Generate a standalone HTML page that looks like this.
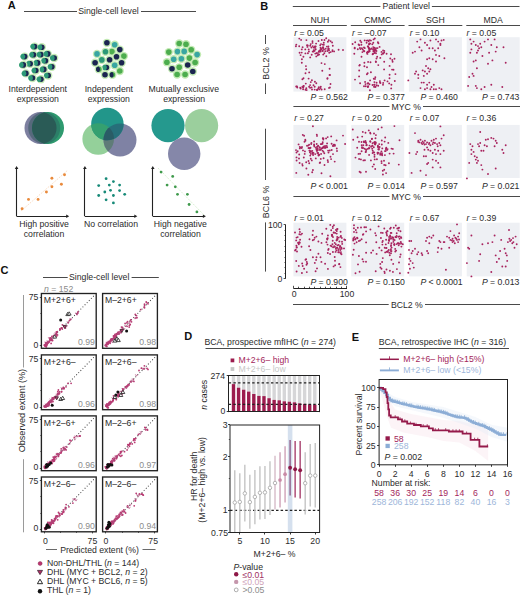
<!DOCTYPE html>
<html><head><meta charset="utf-8"><style>
html,body{margin:0;padding:0;background:#fff;}
svg{display:block;font-family:"Liberation Sans",sans-serif;}
</style></head><body>
<svg width="520" height="596" viewBox="0 0 520 596">
<rect width="520" height="596" fill="#fff"/>
<text x="7.8" y="9.3" font-size="11" text-anchor="start" fill="#111" font-weight="bold">A</text>
<line x1="24.00" y1="11.50" x2="77.00" y2="11.50" stroke="#4a4a4a" stroke-width="1.0"/>
<text x="78.3" y="14.3" font-size="8.7" text-anchor="start" fill="#2b2b2b">Single-cell level</text>
<line x1="141.00" y1="11.50" x2="196.00" y2="11.50" stroke="#4a4a4a" stroke-width="1.0"/>
<circle cx="34.60" cy="46.60" r="4.15" fill="#c3eab4" stroke="none" stroke-width="0.5"/>
<circle cx="34.60" cy="46.60" r="2.80" fill="#1b2550" stroke="none" stroke-width="0.5"/>
<path d="M33.85,43.90 A2.8,2.8 0 1 0 33.85,49.30 A3.6,3.6 0 0 0 33.85,43.90Z" fill="#2c9877"/>
<circle cx="41.80" cy="47.20" r="4.15" fill="#c3eab4" stroke="none" stroke-width="0.5"/>
<circle cx="41.80" cy="47.20" r="2.80" fill="#1b2550" stroke="none" stroke-width="0.5"/>
<path d="M41.05,44.50 A2.8,2.8 0 1 0 41.05,49.90 A3.6,3.6 0 0 0 41.05,44.50Z" fill="#2c9877"/>
<circle cx="24.70" cy="56.60" r="4.15" fill="#c3eab4" stroke="none" stroke-width="0.5"/>
<circle cx="24.70" cy="56.60" r="2.80" fill="#1b2550" stroke="none" stroke-width="0.5"/>
<path d="M23.95,53.90 A2.8,2.8 0 1 0 23.95,59.30 A3.6,3.6 0 0 0 23.95,53.90Z" fill="#2c9877"/>
<circle cx="33.50" cy="54.80" r="4.15" fill="#c3eab4" stroke="none" stroke-width="0.5"/>
<circle cx="33.50" cy="54.80" r="2.80" fill="#1b2550" stroke="none" stroke-width="0.5"/>
<path d="M32.75,52.10 A2.8,2.8 0 1 0 32.75,57.50 A3.6,3.6 0 0 0 32.75,52.10Z" fill="#2c9877"/>
<circle cx="40.90" cy="54.60" r="4.15" fill="#c3eab4" stroke="none" stroke-width="0.5"/>
<circle cx="40.90" cy="54.60" r="2.80" fill="#1b2550" stroke="none" stroke-width="0.5"/>
<path d="M40.15,51.90 A2.8,2.8 0 1 0 40.15,57.30 A3.6,3.6 0 0 0 40.15,51.90Z" fill="#2c9877"/>
<circle cx="47.80" cy="53.90" r="4.15" fill="#c3eab4" stroke="none" stroke-width="0.5"/>
<circle cx="47.80" cy="53.90" r="2.80" fill="#1b2550" stroke="none" stroke-width="0.5"/>
<path d="M47.05,51.20 A2.8,2.8 0 1 0 47.05,56.60 A3.6,3.6 0 0 0 47.05,51.20Z" fill="#2c9877"/>
<circle cx="54.20" cy="58.00" r="4.15" fill="#c3eab4" stroke="none" stroke-width="0.5"/>
<circle cx="54.20" cy="58.00" r="2.80" fill="#1b2550" stroke="none" stroke-width="0.5"/>
<path d="M53.45,55.30 A2.8,2.8 0 1 0 53.45,60.70 A3.6,3.6 0 0 0 53.45,55.30Z" fill="#2c9877"/>
<circle cx="45.50" cy="60.80" r="4.15" fill="#c3eab4" stroke="none" stroke-width="0.5"/>
<circle cx="45.50" cy="60.80" r="2.80" fill="#1b2550" stroke="none" stroke-width="0.5"/>
<path d="M44.75,58.10 A2.8,2.8 0 1 0 44.75,63.50 A3.6,3.6 0 0 0 44.75,58.10Z" fill="#2c9877"/>
<circle cx="37.60" cy="62.90" r="4.15" fill="#c3eab4" stroke="none" stroke-width="0.5"/>
<circle cx="37.60" cy="62.90" r="2.80" fill="#1b2550" stroke="none" stroke-width="0.5"/>
<path d="M36.85,60.20 A2.8,2.8 0 1 0 36.85,65.60 A3.6,3.6 0 0 0 36.85,60.20Z" fill="#2c9877"/>
<circle cx="30.20" cy="63.80" r="4.15" fill="#c3eab4" stroke="none" stroke-width="0.5"/>
<circle cx="30.20" cy="63.80" r="2.80" fill="#1b2550" stroke="none" stroke-width="0.5"/>
<path d="M29.45,61.10 A2.8,2.8 0 1 0 29.45,66.50 A3.6,3.6 0 0 0 29.45,61.10Z" fill="#2c9877"/>
<circle cx="23.30" cy="64.90" r="4.15" fill="#c3eab4" stroke="none" stroke-width="0.5"/>
<circle cx="23.30" cy="64.90" r="2.80" fill="#1b2550" stroke="none" stroke-width="0.5"/>
<path d="M22.55,62.20 A2.8,2.8 0 1 0 22.55,67.60 A3.6,3.6 0 0 0 22.55,62.20Z" fill="#2c9877"/>
<circle cx="51.90" cy="66.80" r="4.15" fill="#c3eab4" stroke="none" stroke-width="0.5"/>
<circle cx="51.90" cy="66.80" r="2.80" fill="#1b2550" stroke="none" stroke-width="0.5"/>
<path d="M51.15,64.10 A2.8,2.8 0 1 0 51.15,69.50 A3.6,3.6 0 0 0 51.15,64.10Z" fill="#2c9877"/>
<circle cx="43.80" cy="69.40" r="4.15" fill="#c3eab4" stroke="none" stroke-width="0.5"/>
<circle cx="43.80" cy="69.40" r="2.80" fill="#1b2550" stroke="none" stroke-width="0.5"/>
<path d="M43.05,66.70 A2.8,2.8 0 1 0 43.05,72.10 A3.6,3.6 0 0 0 43.05,66.70Z" fill="#2c9877"/>
<circle cx="35.80" cy="70.50" r="4.15" fill="#c3eab4" stroke="none" stroke-width="0.5"/>
<circle cx="35.80" cy="70.50" r="2.80" fill="#1b2550" stroke="none" stroke-width="0.5"/>
<path d="M35.05,67.80 A2.8,2.8 0 1 0 35.05,73.20 A3.6,3.6 0 0 0 35.05,67.80Z" fill="#2c9877"/>
<circle cx="25.90" cy="73.40" r="4.15" fill="#c3eab4" stroke="none" stroke-width="0.5"/>
<circle cx="25.90" cy="73.40" r="2.80" fill="#1b2550" stroke="none" stroke-width="0.5"/>
<path d="M25.15,70.70 A2.8,2.8 0 1 0 25.15,76.10 A3.6,3.6 0 0 0 25.15,70.70Z" fill="#2c9877"/>
<circle cx="48.20" cy="75.50" r="4.15" fill="#c3eab4" stroke="none" stroke-width="0.5"/>
<circle cx="48.20" cy="75.50" r="2.80" fill="#1b2550" stroke="none" stroke-width="0.5"/>
<path d="M47.45,72.80 A2.8,2.8 0 1 0 47.45,78.20 A3.6,3.6 0 0 0 47.45,72.80Z" fill="#2c9877"/>
<circle cx="32.50" cy="78.00" r="4.15" fill="#c3eab4" stroke="none" stroke-width="0.5"/>
<circle cx="32.50" cy="78.00" r="2.80" fill="#1b2550" stroke="none" stroke-width="0.5"/>
<path d="M31.75,75.30 A2.8,2.8 0 1 0 31.75,80.70 A3.6,3.6 0 0 0 31.75,75.30Z" fill="#2c9877"/>
<circle cx="40.90" cy="79.20" r="4.15" fill="#c3eab4" stroke="none" stroke-width="0.5"/>
<circle cx="40.90" cy="79.20" r="2.80" fill="#1b2550" stroke="none" stroke-width="0.5"/>
<path d="M40.15,76.50 A2.8,2.8 0 1 0 40.15,81.90 A3.6,3.6 0 0 0 40.15,76.50Z" fill="#2c9877"/>
<circle cx="106.90" cy="42.80" r="4.15" fill="#c3eab4" stroke="none" stroke-width="0.5"/>
<circle cx="106.90" cy="42.80" r="2.80" fill="#1b2550" stroke="none" stroke-width="0.5"/>
<circle cx="114.70" cy="44.70" r="4.15" fill="#c3eab4" stroke="none" stroke-width="0.5"/>
<circle cx="114.70" cy="44.70" r="2.80" fill="#38a6a2" stroke="none" stroke-width="0.5"/>
<circle cx="119.80" cy="49.60" r="4.15" fill="#c3eab4" stroke="none" stroke-width="0.5"/>
<circle cx="119.80" cy="49.60" r="2.80" fill="#1b2550" stroke="none" stroke-width="0.5"/>
<circle cx="111.90" cy="51.60" r="4.15" fill="#c3eab4" stroke="none" stroke-width="0.5"/>
<circle cx="111.90" cy="51.60" r="2.80" fill="#4cad4e" stroke="none" stroke-width="0.5"/>
<circle cx="105.50" cy="51.80" r="4.15" fill="#c3eab4" stroke="none" stroke-width="0.5"/>
<circle cx="105.50" cy="51.80" r="2.80" fill="#2c9877" stroke="none" stroke-width="0.5"/>
<circle cx="97.00" cy="53.90" r="4.15" fill="#c3eab4" stroke="none" stroke-width="0.5"/>
<circle cx="97.00" cy="53.90" r="2.80" fill="#38a6a2" stroke="none" stroke-width="0.5"/>
<circle cx="123.90" cy="56.10" r="4.15" fill="#c3eab4" stroke="none" stroke-width="0.5"/>
<circle cx="123.90" cy="56.10" r="2.80" fill="#4cad4e" stroke="none" stroke-width="0.5"/>
<circle cx="116.50" cy="56.70" r="4.15" fill="#c3eab4" stroke="none" stroke-width="0.5"/>
<circle cx="116.50" cy="56.70" r="2.80" fill="#1b2550" stroke="none" stroke-width="0.5"/>
<circle cx="109.60" cy="59.70" r="4.15" fill="#c3eab4" stroke="none" stroke-width="0.5"/>
<circle cx="109.60" cy="59.70" r="2.80" fill="#1b2550" stroke="none" stroke-width="0.5"/>
<circle cx="101.80" cy="59.90" r="4.15" fill="#c3eab4" stroke="none" stroke-width="0.5"/>
<circle cx="101.80" cy="59.90" r="2.80" fill="#2c9877" stroke="none" stroke-width="0.5"/>
<circle cx="95.10" cy="62.70" r="4.15" fill="#c3eab4" stroke="none" stroke-width="0.5"/>
<circle cx="95.10" cy="62.70" r="2.80" fill="#1b2550" stroke="none" stroke-width="0.5"/>
<circle cx="121.60" cy="62.70" r="4.15" fill="#c3eab4" stroke="none" stroke-width="0.5"/>
<circle cx="121.60" cy="62.70" r="2.80" fill="#1b2550" stroke="none" stroke-width="0.5"/>
<circle cx="114.70" cy="65.30" r="4.15" fill="#c3eab4" stroke="none" stroke-width="0.5"/>
<circle cx="114.70" cy="65.30" r="2.80" fill="#38a6a2" stroke="none" stroke-width="0.5"/>
<circle cx="106.40" cy="67.50" r="4.15" fill="#c3eab4" stroke="none" stroke-width="0.5"/>
<circle cx="106.40" cy="67.50" r="2.80" fill="#1b2550" stroke="none" stroke-width="0.5"/>
<path d="M105.65,64.80 A2.8,2.8 0 1 0 105.65,70.20 A3.6,3.6 0 0 0 105.65,64.80Z" fill="#2c9877"/>
<circle cx="98.80" cy="69.20" r="4.15" fill="#c3eab4" stroke="none" stroke-width="0.5"/>
<circle cx="98.80" cy="69.20" r="2.80" fill="#4cad4e" stroke="none" stroke-width="0.5"/>
<path d="M98.80,66.40 A2.8,2.8 0 1 0 98.80,72.00 A4.2,4.2 0 0 0 98.80,66.40Z" fill="#1b2550"/>
<circle cx="119.80" cy="71.00" r="4.15" fill="#c3eab4" stroke="none" stroke-width="0.5"/>
<circle cx="119.80" cy="71.00" r="2.80" fill="#4cad4e" stroke="none" stroke-width="0.5"/>
<circle cx="105.00" cy="74.70" r="4.15" fill="#c3eab4" stroke="none" stroke-width="0.5"/>
<circle cx="105.00" cy="74.70" r="2.80" fill="#1b2550" stroke="none" stroke-width="0.5"/>
<circle cx="112.40" cy="74.70" r="4.15" fill="#c3eab4" stroke="none" stroke-width="0.5"/>
<circle cx="112.40" cy="74.70" r="2.80" fill="#4cad4e" stroke="none" stroke-width="0.5"/>
<path d="M112.40,71.90 A2.8,2.8 0 1 0 112.40,77.50 A4.2,4.2 0 0 0 112.40,71.90Z" fill="#1b2550"/>
<circle cx="179.20" cy="43.50" r="4.15" fill="#c3eab4" stroke="none" stroke-width="0.5"/>
<circle cx="179.20" cy="43.50" r="2.80" fill="#4cad4e" stroke="none" stroke-width="0.5"/>
<circle cx="186.00" cy="44.20" r="4.15" fill="#c3eab4" stroke="none" stroke-width="0.5"/>
<circle cx="186.00" cy="44.20" r="2.80" fill="#4cad4e" stroke="none" stroke-width="0.5"/>
<circle cx="168.80" cy="52.10" r="4.15" fill="#c3eab4" stroke="none" stroke-width="0.5"/>
<circle cx="168.80" cy="52.10" r="2.80" fill="#4cad4e" stroke="none" stroke-width="0.5"/>
<circle cx="177.50" cy="51.60" r="4.15" fill="#c3eab4" stroke="none" stroke-width="0.5"/>
<circle cx="177.50" cy="51.60" r="2.80" fill="#38a6a2" stroke="none" stroke-width="0.5"/>
<circle cx="184.20" cy="51.40" r="4.15" fill="#c3eab4" stroke="none" stroke-width="0.5"/>
<circle cx="184.20" cy="51.40" r="2.80" fill="#38a6a2" stroke="none" stroke-width="0.5"/>
<circle cx="191.20" cy="49.80" r="4.15" fill="#c3eab4" stroke="none" stroke-width="0.5"/>
<circle cx="191.20" cy="49.80" r="2.80" fill="#4cad4e" stroke="none" stroke-width="0.5"/>
<circle cx="197.10" cy="54.60" r="4.15" fill="#c3eab4" stroke="none" stroke-width="0.5"/>
<circle cx="197.10" cy="54.60" r="2.80" fill="#38a6a2" stroke="none" stroke-width="0.5"/>
<circle cx="173.70" cy="59.20" r="4.15" fill="#c3eab4" stroke="none" stroke-width="0.5"/>
<circle cx="173.70" cy="59.20" r="2.80" fill="#38a6a2" stroke="none" stroke-width="0.5"/>
<circle cx="181.40" cy="58.80" r="4.15" fill="#c3eab4" stroke="none" stroke-width="0.5"/>
<circle cx="181.40" cy="58.80" r="2.80" fill="#38a6a2" stroke="none" stroke-width="0.5"/>
<circle cx="189.40" cy="58.10" r="4.15" fill="#c3eab4" stroke="none" stroke-width="0.5"/>
<circle cx="189.40" cy="58.10" r="2.80" fill="#4cad4e" stroke="none" stroke-width="0.5"/>
<circle cx="166.90" cy="62.20" r="4.15" fill="#c3eab4" stroke="none" stroke-width="0.5"/>
<circle cx="166.90" cy="62.20" r="2.80" fill="#4cad4e" stroke="none" stroke-width="0.5"/>
<circle cx="195.10" cy="62.50" r="4.15" fill="#c3eab4" stroke="none" stroke-width="0.5"/>
<circle cx="195.10" cy="62.50" r="2.80" fill="#4cad4e" stroke="none" stroke-width="0.5"/>
<circle cx="187.70" cy="65.00" r="4.15" fill="#c3eab4" stroke="none" stroke-width="0.5"/>
<circle cx="187.70" cy="65.00" r="2.80" fill="#1b2550" stroke="none" stroke-width="0.5"/>
<circle cx="179.20" cy="67.30" r="4.15" fill="#c3eab4" stroke="none" stroke-width="0.5"/>
<circle cx="179.20" cy="67.30" r="2.80" fill="#4cad4e" stroke="none" stroke-width="0.5"/>
<circle cx="172.00" cy="68.70" r="4.15" fill="#c3eab4" stroke="none" stroke-width="0.5"/>
<circle cx="172.00" cy="68.70" r="2.80" fill="#1b2550" stroke="none" stroke-width="0.5"/>
<circle cx="192.80" cy="71.50" r="4.15" fill="#c3eab4" stroke="none" stroke-width="0.5"/>
<circle cx="192.80" cy="71.50" r="2.80" fill="#1b2550" stroke="none" stroke-width="0.5"/>
<circle cx="177.10" cy="74.50" r="4.15" fill="#c3eab4" stroke="none" stroke-width="0.5"/>
<circle cx="177.10" cy="74.50" r="2.80" fill="#4cad4e" stroke="none" stroke-width="0.5"/>
<circle cx="185.10" cy="74.50" r="4.15" fill="#c3eab4" stroke="none" stroke-width="0.5"/>
<circle cx="185.10" cy="74.50" r="2.80" fill="#4cad4e" stroke="none" stroke-width="0.5"/>
<text x="37.8" y="91.8" font-size="8.7" text-anchor="middle" fill="#2b2b2b">Interdependent</text>
<text x="37.8" y="102.2" font-size="8.7" text-anchor="middle" fill="#2b2b2b">expression</text>
<text x="108.8" y="91.8" font-size="8.7" text-anchor="middle" fill="#2b2b2b">Independent</text>
<text x="108.8" y="102.2" font-size="8.7" text-anchor="middle" fill="#2b2b2b">expression</text>
<text x="183.8" y="91.8" font-size="8.7" text-anchor="middle" fill="#2b2b2b">Mutually exclusive</text>
<text x="184.2" y="102.2" font-size="8.7" text-anchor="middle" fill="#2b2b2b">expression</text>
<circle cx="40.50" cy="128.00" r="16.00" fill="#7d80a0" stroke="none" stroke-width="0.5"/>
<circle cx="48.00" cy="128.00" r="16.00" fill="#2f9a6f" stroke="none" stroke-width="0.5"/>
<clipPath id="v1"><circle cx="40.5" cy="128" r="16"/></clipPath>
<clipPath id="v1g"><circle cx="48" cy="128" r="16"/></clipPath>
<circle cx="48.00" cy="128.00" r="16.00" fill="#2b5e58" stroke="none" stroke-width="0.5" clip-path="url(#v1)"/>
<circle cx="44.20" cy="128.00" r="16.00" fill="#56697c" stroke="none" stroke-width="0.5" clip-path="url(#v1)"/>
<circle cx="44.20" cy="128.00" r="16.00" fill="#2c7e68" stroke="none" stroke-width="0.5" clip-path="url(#v1g)"/>
<g clip-path="url(#v1)">
<circle cx="44.20" cy="128.00" r="16.00" fill="#2a5b56" stroke="none" stroke-width="0.5" clip-path="url(#v1g)"/>
</g>
<g>
<circle cx="98.20" cy="139.00" r="15.80" fill="#94d09a" stroke="none" stroke-width="0.5"/>
<circle cx="120.00" cy="140.00" r="16.50" fill="#7f82a4" stroke="none" stroke-width="0.5"/>
<circle cx="107.40" cy="124.00" r="16.20" fill="#22968a" stroke="none" stroke-width="0.5"/>
<clipPath id="v2a"><circle cx="98.2" cy="139" r="15.8"/></clipPath>
<clipPath id="v2b"><circle cx="120" cy="140" r="16.5"/></clipPath>
<circle cx="107.40" cy="124.00" r="16.20" fill="#35a070" stroke="none" stroke-width="0.5" clip-path="url(#v2a)"/>
<circle cx="120.00" cy="140.00" r="16.50" fill="#5f7c78" stroke="none" stroke-width="0.5" clip-path="url(#v2a)"/>
<circle cx="107.40" cy="124.00" r="16.20" fill="#276f7a" stroke="none" stroke-width="0.5" clip-path="url(#v2b)"/>
<g clip-path="url(#v2a)">
<circle cx="107.40" cy="124.00" r="16.20" fill="#2a5c66" stroke="none" stroke-width="0.5" clip-path="url(#v2b)"/>
</g>
</g>
<circle cx="168.00" cy="125.60" r="16.60" fill="#25998e" stroke="none" stroke-width="0.5"/>
<circle cx="201.60" cy="125.60" r="16.60" fill="#9bcf9d" stroke="none" stroke-width="0.5"/>
<circle cx="184.20" cy="153.70" r="16.20" fill="#8587a9" stroke="none" stroke-width="0.5"/>
<line x1="16.50" y1="216.20" x2="16.50" y2="168.00" stroke="#222" stroke-width="1.1"/>
<line x1="16.60" y1="216.50" x2="67.20" y2="216.50" stroke="#222" stroke-width="1.1"/>
<path d="M14.8,169.0 L16.6,166.0 L18.4,169.0Z" fill="#222"/>
<path d="M66.2,214.4 L69.2,216.2 L66.2,218.0Z" fill="#222"/>
<line x1="21.00" y1="211.00" x2="68.00" y2="170.00" stroke="#f6c9a0" stroke-width="0.7" stroke-dasharray="1.2,1.2"/>
<circle cx="22.10" cy="208.80" r="1.45" fill="#e98a3c" stroke="none" stroke-width="0.5"/>
<circle cx="28.50" cy="199.40" r="1.45" fill="#e98a3c" stroke="none" stroke-width="0.5"/>
<circle cx="38.10" cy="199.40" r="1.45" fill="#e98a3c" stroke="none" stroke-width="0.5"/>
<circle cx="46.40" cy="192.00" r="1.45" fill="#e98a3c" stroke="none" stroke-width="0.5"/>
<circle cx="51.90" cy="186.80" r="1.45" fill="#e98a3c" stroke="none" stroke-width="0.5"/>
<circle cx="51.90" cy="178.20" r="1.45" fill="#e98a3c" stroke="none" stroke-width="0.5"/>
<circle cx="61.40" cy="184.20" r="1.45" fill="#e98a3c" stroke="none" stroke-width="0.5"/>
<circle cx="64.50" cy="174.70" r="1.45" fill="#e98a3c" stroke="none" stroke-width="0.5"/>
<text x="44.1" y="227.3" font-size="8.7" text-anchor="middle" fill="#2b2b2b">High positive</text>
<text x="44.0" y="237.3" font-size="8.7" text-anchor="middle" fill="#2b2b2b">correlation</text>
<line x1="84.50" y1="216.20" x2="84.50" y2="168.00" stroke="#222" stroke-width="1.1"/>
<line x1="84.90" y1="216.50" x2="135.30" y2="216.50" stroke="#222" stroke-width="1.1"/>
<path d="M83.1,169.0 L84.9,166.0 L86.7,169.0Z" fill="#222"/>
<path d="M134.3,214.4 L137.3,216.2 L134.3,218.0Z" fill="#222"/>
<circle cx="106.10" cy="178.70" r="1.40" fill="#178a78" stroke="none" stroke-width="0.5"/>
<circle cx="113.40" cy="181.60" r="1.40" fill="#178a78" stroke="none" stroke-width="0.5"/>
<circle cx="98.70" cy="185.60" r="1.40" fill="#178a78" stroke="none" stroke-width="0.5"/>
<circle cx="109.30" cy="185.10" r="1.40" fill="#178a78" stroke="none" stroke-width="0.5"/>
<circle cx="119.60" cy="185.10" r="1.40" fill="#178a78" stroke="none" stroke-width="0.5"/>
<circle cx="104.80" cy="192.00" r="1.40" fill="#178a78" stroke="none" stroke-width="0.5"/>
<circle cx="110.50" cy="190.30" r="1.40" fill="#178a78" stroke="none" stroke-width="0.5"/>
<circle cx="119.60" cy="190.60" r="1.40" fill="#178a78" stroke="none" stroke-width="0.5"/>
<circle cx="124.70" cy="194.30" r="1.40" fill="#178a78" stroke="none" stroke-width="0.5"/>
<circle cx="98.70" cy="195.50" r="1.40" fill="#178a78" stroke="none" stroke-width="0.5"/>
<circle cx="113.40" cy="195.50" r="1.40" fill="#178a78" stroke="none" stroke-width="0.5"/>
<circle cx="106.10" cy="199.80" r="1.40" fill="#178a78" stroke="none" stroke-width="0.5"/>
<circle cx="113.40" cy="202.90" r="1.40" fill="#178a78" stroke="none" stroke-width="0.5"/>
<text x="111.0" y="227.3" font-size="8.7" text-anchor="middle" fill="#2b2b2b">No correlation</text>
<line x1="152.50" y1="216.20" x2="152.50" y2="168.00" stroke="#222" stroke-width="1.1"/>
<line x1="152.80" y1="216.50" x2="203.90" y2="216.50" stroke="#222" stroke-width="1.1"/>
<path d="M151.0,169.0 L152.8,166.0 L154.6,169.0Z" fill="#222"/>
<path d="M202.9,214.4 L205.9,216.2 L202.9,218.0Z" fill="#222"/>
<line x1="158.00" y1="168.00" x2="204.00" y2="215.00" stroke="#bfe6b5" stroke-width="0.7" stroke-dasharray="1.2,1.2"/>
<circle cx="161.10" cy="172.10" r="1.40" fill="#3f9a4c" stroke="none" stroke-width="0.5"/>
<circle cx="172.70" cy="176.40" r="1.40" fill="#3f9a4c" stroke="none" stroke-width="0.5"/>
<circle cx="167.10" cy="185.10" r="1.40" fill="#3f9a4c" stroke="none" stroke-width="0.5"/>
<circle cx="175.30" cy="186.80" r="1.40" fill="#3f9a4c" stroke="none" stroke-width="0.5"/>
<circle cx="177.50" cy="194.30" r="1.40" fill="#3f9a4c" stroke="none" stroke-width="0.5"/>
<circle cx="187.40" cy="194.30" r="1.40" fill="#3f9a4c" stroke="none" stroke-width="0.5"/>
<circle cx="189.10" cy="204.50" r="1.40" fill="#3f9a4c" stroke="none" stroke-width="0.5"/>
<circle cx="196.90" cy="211.90" r="1.40" fill="#3f9a4c" stroke="none" stroke-width="0.5"/>
<text x="180.3" y="227.3" font-size="8.7" text-anchor="middle" fill="#2b2b2b">High negative</text>
<text x="180.5" y="237.3" font-size="8.7" text-anchor="middle" fill="#2b2b2b">correlation</text>
<text x="260.2" y="9.6" font-size="11" text-anchor="start" fill="#111" font-weight="bold">B</text>
<line x1="292.80" y1="6.50" x2="380.40" y2="6.50" stroke="#4a4a4a" stroke-width="1.0"/>
<text x="382.6" y="9.4" font-size="8.7" text-anchor="start" fill="#2b2b2b">Patient level</text>
<line x1="431.90" y1="6.50" x2="519.50" y2="6.50" stroke="#4a4a4a" stroke-width="1.0"/>
<text x="319.9" y="22.6" font-size="8.7" text-anchor="middle" fill="#2b2b2b">NUH</text>
<line x1="293.00" y1="25.50" x2="346.80" y2="25.50" stroke="#4a4a4a" stroke-width="1.0"/>
<text x="377.7" y="22.6" font-size="8.7" text-anchor="middle" fill="#2b2b2b">CMMC</text>
<line x1="350.80" y1="25.50" x2="404.60" y2="25.50" stroke="#4a4a4a" stroke-width="1.0"/>
<text x="435.4" y="22.6" font-size="8.7" text-anchor="middle" fill="#2b2b2b">SGH</text>
<line x1="408.50" y1="25.50" x2="462.30" y2="25.50" stroke="#4a4a4a" stroke-width="1.0"/>
<text x="493.2" y="22.6" font-size="8.7" text-anchor="middle" fill="#2b2b2b">MDA</text>
<line x1="466.30" y1="25.50" x2="520.10" y2="25.50" stroke="#4a4a4a" stroke-width="1.0"/>
<rect x="293.40" y="37.20" width="53.00" height="54.40" fill="#eef0f4" stroke="none" stroke-width="1"/>
<text x="294.2" y="35.6" font-size="8.7" text-anchor="start" fill="#2b2b2b"><tspan font-style="italic">r</tspan> = 0.05</text>
<text x="310.4" y="99.6" font-size="8.7" text-anchor="start" fill="#2b2b2b"><tspan font-style="italic">P</tspan> = 0.562</text>
<g fill="#a8235e"><circle cx="314.5" cy="50.9" r="0.95"/><circle cx="314.9" cy="46.4" r="0.95"/><circle cx="307.4" cy="46.9" r="0.95"/><circle cx="329.0" cy="50.4" r="0.95"/><circle cx="328.2" cy="49.4" r="0.95"/><circle cx="321.4" cy="49.1" r="0.95"/><circle cx="299.6" cy="52.7" r="0.95"/><circle cx="322.6" cy="50.8" r="0.95"/><circle cx="299.3" cy="38.6" r="0.95"/><circle cx="307.8" cy="45.5" r="0.95"/><circle cx="320.5" cy="47.8" r="0.95"/><circle cx="322.8" cy="44.6" r="0.95"/><circle cx="320.5" cy="50.2" r="0.95"/><circle cx="310.2" cy="57.4" r="0.95"/><circle cx="323.2" cy="54.6" r="0.95"/><circle cx="310.7" cy="44.1" r="0.95"/><circle cx="313.6" cy="47.5" r="0.95"/><circle cx="324.0" cy="49.4" r="0.95"/><circle cx="312.5" cy="42.9" r="0.95"/><circle cx="311.7" cy="54.7" r="0.95"/><circle cx="308.7" cy="49.4" r="0.95"/><circle cx="321.8" cy="40.0" r="0.95"/><circle cx="317.8" cy="55.2" r="0.95"/><circle cx="295.9" cy="46.3" r="0.95"/><circle cx="316.1" cy="43.6" r="0.95"/><circle cx="322.5" cy="47.7" r="0.95"/><circle cx="301.7" cy="52.6" r="0.95"/><circle cx="324.3" cy="53.2" r="0.95"/><circle cx="332.5" cy="50.1" r="0.95"/><circle cx="318.5" cy="41.0" r="0.95"/><circle cx="323.8" cy="44.8" r="0.95"/><circle cx="312.5" cy="41.2" r="0.95"/><circle cx="307.0" cy="45.2" r="0.95"/><circle cx="301.8" cy="49.4" r="0.95"/><circle cx="332.5" cy="51.2" r="0.95"/><circle cx="321.0" cy="44.1" r="0.95"/><circle cx="305.4" cy="53.4" r="0.95"/><circle cx="328.9" cy="48.9" r="0.95"/><circle cx="319.9" cy="50.4" r="0.95"/><circle cx="334.1" cy="51.4" r="0.95"/><circle cx="322.7" cy="51.1" r="0.95"/><circle cx="300.6" cy="55.1" r="0.95"/><circle cx="327.4" cy="51.0" r="0.95"/><circle cx="296.3" cy="44.6" r="0.95"/><circle cx="326.2" cy="38.2" r="0.95"/><circle cx="315.3" cy="53.6" r="0.95"/><circle cx="303.4" cy="56.8" r="0.95"/><circle cx="323.1" cy="47.3" r="0.95"/><circle cx="320.7" cy="51.6" r="0.95"/><circle cx="318.5" cy="54.3" r="0.95"/><circle cx="310.2" cy="45.8" r="0.95"/><circle cx="328.3" cy="48.2" r="0.95"/><circle cx="307.9" cy="53.2" r="0.95"/><circle cx="332.8" cy="45.7" r="0.95"/><circle cx="302.6" cy="47.3" r="0.95"/><circle cx="315.7" cy="46.5" r="0.95"/><circle cx="332.1" cy="42.5" r="0.95"/><circle cx="330.6" cy="41.2" r="0.95"/><circle cx="308.9" cy="51.5" r="0.95"/><circle cx="329.2" cy="52.8" r="0.95"/><circle cx="320.9" cy="48.9" r="0.95"/><circle cx="318.9" cy="51.2" r="0.95"/><circle cx="315.4" cy="49.6" r="0.95"/><circle cx="323.3" cy="48.1" r="0.95"/><circle cx="325.3" cy="51.2" r="0.95"/><circle cx="338.6" cy="49.8" r="0.95"/><circle cx="312.7" cy="46.1" r="0.95"/><circle cx="317.1" cy="53.1" r="0.95"/><circle cx="313.7" cy="50.2" r="0.95"/><circle cx="305.3" cy="49.4" r="0.95"/><circle cx="321.5" cy="49.4" r="0.95"/><circle cx="312.7" cy="51.6" r="0.95"/><circle cx="320.2" cy="45.2" r="0.95"/><circle cx="343.0" cy="50.0" r="0.95"/><circle cx="311.4" cy="47.5" r="0.95"/><circle cx="314.9" cy="47.7" r="0.95"/><circle cx="327.9" cy="41.7" r="0.95"/><circle cx="316.5" cy="53.3" r="0.95"/><circle cx="326.3" cy="56.2" r="0.95"/><circle cx="299.2" cy="46.2" r="0.95"/><circle cx="313.6" cy="51.5" r="0.95"/><circle cx="328.8" cy="40.2" r="0.95"/><circle cx="324.5" cy="40.0" r="0.95"/><circle cx="319.1" cy="54.6" r="0.95"/><circle cx="315.7" cy="49.1" r="0.95"/><circle cx="325.7" cy="48.8" r="0.95"/><circle cx="316.3" cy="56.4" r="0.95"/><circle cx="328.4" cy="46.5" r="0.95"/><circle cx="326.9" cy="46.6" r="0.95"/><circle cx="318.7" cy="51.9" r="0.95"/><circle cx="319.6" cy="51.6" r="0.95"/><circle cx="301.1" cy="39.9" r="0.95"/><circle cx="323.8" cy="42.8" r="0.95"/><circle cx="306.4" cy="40.1" r="0.95"/><circle cx="330.7" cy="52.1" r="0.95"/><circle cx="327.5" cy="78.1" r="0.95"/><circle cx="322.3" cy="70.7" r="0.95"/><circle cx="303.5" cy="78.3" r="0.95"/><circle cx="308.6" cy="78.6" r="0.95"/><circle cx="329.6" cy="68.7" r="0.95"/><circle cx="310.8" cy="82.1" r="0.95"/><circle cx="321.5" cy="63.1" r="0.95"/><circle cx="301.8" cy="62.7" r="0.95"/><circle cx="327.4" cy="78.7" r="0.95"/><circle cx="302.4" cy="79.2" r="0.95"/><circle cx="329.9" cy="75.0" r="0.95"/><circle cx="309.2" cy="72.4" r="0.95"/><circle cx="301.9" cy="59.3" r="0.95"/><circle cx="329.5" cy="74.9" r="0.95"/><circle cx="314.9" cy="81.8" r="0.95"/><circle cx="311.9" cy="80.3" r="0.95"/><circle cx="324.8" cy="64.1" r="0.95"/><circle cx="305.9" cy="66.1" r="0.95"/><circle cx="305.5" cy="73.3" r="0.95"/><circle cx="306.2" cy="69.2" r="0.95"/><circle cx="305.5" cy="89.7" r="0.95"/><circle cx="300.2" cy="87.8" r="0.95"/><circle cx="310.1" cy="87.7" r="0.95"/><circle cx="306.3" cy="88.3" r="0.95"/><circle cx="329.0" cy="87.9" r="0.95"/><circle cx="317.0" cy="90.0" r="0.95"/><circle cx="310.1" cy="85.1" r="0.95"/><circle cx="306.7" cy="90.1" r="0.95"/><circle cx="296.2" cy="86.5" r="0.95"/><circle cx="321.6" cy="89.5" r="0.95"/><circle cx="312.0" cy="89.5" r="0.95"/><circle cx="313.5" cy="85.2" r="0.95"/><circle cx="297.0" cy="86.4" r="0.95"/><circle cx="320.8" cy="86.6" r="0.95"/><circle cx="303.3" cy="86.1" r="0.95"/><circle cx="297.3" cy="87.5" r="0.95"/><circle cx="300.7" cy="88.6" r="0.95"/><circle cx="305.8" cy="83.6" r="0.95"/><circle cx="318.9" cy="87.2" r="0.95"/><circle cx="314.7" cy="86.8" r="0.95"/><circle cx="319.4" cy="89.4" r="0.95"/><circle cx="318.3" cy="88.5" r="0.95"/><circle cx="324.7" cy="89.2" r="0.95"/><circle cx="316.3" cy="83.3" r="0.95"/><circle cx="309.1" cy="86.8" r="0.95"/><circle cx="330.5" cy="84.0" r="0.95"/><circle cx="303.1" cy="89.3" r="0.95"/><circle cx="329.9" cy="87.5" r="0.95"/><circle cx="317.3" cy="89.8" r="0.95"/><circle cx="303.3" cy="87.6" r="0.95"/><circle cx="314.7" cy="89.6" r="0.95"/><circle cx="311.6" cy="87.4" r="0.95"/><circle cx="302.3" cy="87.0" r="0.95"/><circle cx="320.5" cy="88.0" r="0.95"/><circle cx="303.8" cy="86.0" r="0.95"/></g>
<rect x="351.20" y="37.20" width="53.00" height="54.40" fill="#eef0f4" stroke="none" stroke-width="1"/>
<text x="352.0" y="35.6" font-size="8.7" text-anchor="start" fill="#2b2b2b"><tspan font-style="italic">r</tspan> = –0.07</text>
<text x="367.4" y="99.6" font-size="8.7" text-anchor="start" fill="#2b2b2b"><tspan font-style="italic">P</tspan> = 0.377</text>
<g fill="#a8235e"><circle cx="391.0" cy="54.3" r="0.95"/><circle cx="374.7" cy="50.7" r="0.95"/><circle cx="383.1" cy="50.4" r="0.95"/><circle cx="369.2" cy="50.9" r="0.95"/><circle cx="354.3" cy="53.7" r="0.95"/><circle cx="372.3" cy="44.3" r="0.95"/><circle cx="380.3" cy="57.9" r="0.95"/><circle cx="358.6" cy="44.5" r="0.95"/><circle cx="372.1" cy="49.1" r="0.95"/><circle cx="366.6" cy="42.8" r="0.95"/><circle cx="386.6" cy="53.7" r="0.95"/><circle cx="360.3" cy="40.8" r="0.95"/><circle cx="383.3" cy="53.5" r="0.95"/><circle cx="384.2" cy="52.5" r="0.95"/><circle cx="362.8" cy="49.5" r="0.95"/><circle cx="352.6" cy="44.0" r="0.95"/><circle cx="369.3" cy="50.9" r="0.95"/><circle cx="364.0" cy="47.4" r="0.95"/><circle cx="373.4" cy="50.1" r="0.95"/><circle cx="374.8" cy="49.2" r="0.95"/><circle cx="367.2" cy="52.4" r="0.95"/><circle cx="370.1" cy="43.6" r="0.95"/><circle cx="364.8" cy="48.1" r="0.95"/><circle cx="368.9" cy="48.9" r="0.95"/><circle cx="369.7" cy="49.0" r="0.95"/><circle cx="368.7" cy="41.2" r="0.95"/><circle cx="373.1" cy="53.8" r="0.95"/><circle cx="373.2" cy="47.1" r="0.95"/><circle cx="373.3" cy="42.8" r="0.95"/><circle cx="354.7" cy="48.4" r="0.95"/><circle cx="362.4" cy="52.1" r="0.95"/><circle cx="361.5" cy="56.7" r="0.95"/><circle cx="366.7" cy="40.6" r="0.95"/><circle cx="363.7" cy="50.9" r="0.95"/><circle cx="373.7" cy="49.0" r="0.95"/><circle cx="381.5" cy="51.9" r="0.95"/><circle cx="369.6" cy="51.3" r="0.95"/><circle cx="382.9" cy="53.4" r="0.95"/><circle cx="377.9" cy="42.2" r="0.95"/><circle cx="368.6" cy="52.1" r="0.95"/><circle cx="367.4" cy="53.9" r="0.95"/><circle cx="374.5" cy="53.0" r="0.95"/><circle cx="368.1" cy="61.9" r="0.95"/><circle cx="379.6" cy="46.9" r="0.95"/><circle cx="370.5" cy="62.2" r="0.95"/><circle cx="367.0" cy="52.8" r="0.95"/><circle cx="377.5" cy="48.1" r="0.95"/><circle cx="360.5" cy="49.1" r="0.95"/><circle cx="372.6" cy="54.2" r="0.95"/><circle cx="376.0" cy="48.2" r="0.95"/><circle cx="376.5" cy="51.0" r="0.95"/><circle cx="371.4" cy="48.4" r="0.95"/><circle cx="367.8" cy="51.8" r="0.95"/><circle cx="361.4" cy="44.7" r="0.95"/><circle cx="369.8" cy="40.1" r="0.95"/><circle cx="364.3" cy="51.2" r="0.95"/><circle cx="374.3" cy="47.8" r="0.95"/><circle cx="367.9" cy="40.4" r="0.95"/><circle cx="384.3" cy="50.9" r="0.95"/><circle cx="378.4" cy="43.3" r="0.95"/><circle cx="376.0" cy="53.2" r="0.95"/><circle cx="354.7" cy="47.8" r="0.95"/><circle cx="374.8" cy="38.5" r="0.95"/><circle cx="355.2" cy="42.3" r="0.95"/><circle cx="364.7" cy="40.4" r="0.95"/><circle cx="370.0" cy="49.4" r="0.95"/><circle cx="374.8" cy="51.9" r="0.95"/><circle cx="381.7" cy="54.4" r="0.95"/><circle cx="359.3" cy="45.3" r="0.95"/><circle cx="361.3" cy="42.2" r="0.95"/><circle cx="369.1" cy="48.1" r="0.95"/><circle cx="373.6" cy="39.4" r="0.95"/><circle cx="359.9" cy="48.0" r="0.95"/><circle cx="368.2" cy="46.4" r="0.95"/><circle cx="369.2" cy="43.9" r="0.95"/><circle cx="375.3" cy="50.0" r="0.95"/><circle cx="369.1" cy="44.4" r="0.95"/><circle cx="361.9" cy="48.3" r="0.95"/><circle cx="357.8" cy="49.2" r="0.95"/><circle cx="370.9" cy="40.6" r="0.95"/><circle cx="367.8" cy="46.4" r="0.95"/><circle cx="373.4" cy="51.4" r="0.95"/><circle cx="369.5" cy="43.4" r="0.95"/><circle cx="368.6" cy="47.7" r="0.95"/><circle cx="375.6" cy="49.7" r="0.95"/><circle cx="384.1" cy="69.4" r="0.95"/><circle cx="384.2" cy="61.8" r="0.95"/><circle cx="378.3" cy="65.1" r="0.95"/><circle cx="376.5" cy="58.5" r="0.95"/><circle cx="392.3" cy="60.0" r="0.95"/><circle cx="395.4" cy="74.1" r="0.95"/><circle cx="359.8" cy="65.0" r="0.95"/><circle cx="389.6" cy="74.7" r="0.95"/><circle cx="375.8" cy="61.4" r="0.95"/><circle cx="366.9" cy="74.2" r="0.95"/><circle cx="367.0" cy="67.3" r="0.95"/><circle cx="364.4" cy="66.2" r="0.95"/><circle cx="394.5" cy="58.8" r="0.95"/><circle cx="389.6" cy="65.9" r="0.95"/><circle cx="392.1" cy="69.6" r="0.95"/><circle cx="367.7" cy="73.3" r="0.95"/><circle cx="377.2" cy="56.7" r="0.95"/><circle cx="359.3" cy="65.6" r="0.95"/><circle cx="375.9" cy="62.0" r="0.95"/><circle cx="364.4" cy="62.8" r="0.95"/><circle cx="370.9" cy="72.2" r="0.95"/><circle cx="359.2" cy="70.5" r="0.95"/><circle cx="390.3" cy="58.5" r="0.95"/><circle cx="393.5" cy="69.8" r="0.95"/><circle cx="392.6" cy="61.8" r="0.95"/><circle cx="367.7" cy="86.6" r="0.95"/><circle cx="389.2" cy="83.4" r="0.95"/><circle cx="367.9" cy="87.0" r="0.95"/><circle cx="374.5" cy="84.8" r="0.95"/><circle cx="391.2" cy="88.4" r="0.95"/><circle cx="375.1" cy="86.9" r="0.95"/><circle cx="368.2" cy="83.2" r="0.95"/><circle cx="389.5" cy="78.2" r="0.95"/><circle cx="359.1" cy="76.4" r="0.95"/><circle cx="387.5" cy="81.4" r="0.95"/><circle cx="374.4" cy="82.1" r="0.95"/><circle cx="373.8" cy="78.7" r="0.95"/><circle cx="375.3" cy="77.2" r="0.95"/><circle cx="374.3" cy="84.8" r="0.95"/><circle cx="380.0" cy="82.4" r="0.95"/><circle cx="365.5" cy="84.1" r="0.95"/><circle cx="369.9" cy="90.3" r="0.95"/><circle cx="383.2" cy="82.9" r="0.95"/><circle cx="370.1" cy="80.4" r="0.95"/><circle cx="365.1" cy="81.9" r="0.95"/><circle cx="378.2" cy="85.7" r="0.95"/><circle cx="367.6" cy="83.5" r="0.95"/><circle cx="369.5" cy="84.2" r="0.95"/><circle cx="376.7" cy="85.2" r="0.95"/><circle cx="372.5" cy="85.0" r="0.95"/><circle cx="375.6" cy="86.8" r="0.95"/><circle cx="355.0" cy="79.6" r="0.95"/><circle cx="375.0" cy="78.9" r="0.95"/><circle cx="364.0" cy="86.2" r="0.95"/><circle cx="368.2" cy="86.2" r="0.95"/><circle cx="383.0" cy="84.8" r="0.95"/><circle cx="380.4" cy="83.0" r="0.95"/><circle cx="360.1" cy="83.3" r="0.95"/><circle cx="379.9" cy="81.1" r="0.95"/><circle cx="374.0" cy="86.7" r="0.95"/><circle cx="365.7" cy="86.2" r="0.95"/><circle cx="394.8" cy="81.0" r="0.95"/><circle cx="376.6" cy="82.8" r="0.95"/><circle cx="391.4" cy="84.8" r="0.95"/><circle cx="384.6" cy="80.4" r="0.95"/></g>
<rect x="408.90" y="37.20" width="53.00" height="54.40" fill="#eef0f4" stroke="none" stroke-width="1"/>
<text x="409.7" y="35.6" font-size="8.7" text-anchor="start" fill="#2b2b2b"><tspan font-style="italic">r</tspan> = 0.10</text>
<text x="420.4" y="99.6" font-size="8.7" text-anchor="start" fill="#2b2b2b"><tspan font-style="italic">P</tspan> = 0.460</text>
<g fill="#a8235e"><circle cx="417.2" cy="41.6" r="0.95"/><circle cx="420.5" cy="39.4" r="0.95"/><circle cx="424.9" cy="42.7" r="0.95"/><circle cx="427.1" cy="45.0" r="0.95"/><circle cx="430.4" cy="40.5" r="0.95"/><circle cx="436.0" cy="39.4" r="0.95"/><circle cx="438.2" cy="41.6" r="0.95"/><circle cx="440.4" cy="45.0" r="0.95"/><circle cx="441.5" cy="40.5" r="0.95"/><circle cx="443.7" cy="39.9" r="0.95"/><circle cx="440.4" cy="43.8" r="0.95"/><circle cx="419.4" cy="47.2" r="0.95"/><circle cx="421.6" cy="50.5" r="0.95"/><circle cx="415.0" cy="51.6" r="0.95"/><circle cx="412.7" cy="52.7" r="0.95"/><circle cx="429.3" cy="48.3" r="0.95"/><circle cx="432.7" cy="48.3" r="0.95"/><circle cx="434.9" cy="50.5" r="0.95"/><circle cx="436.0" cy="54.9" r="0.95"/><circle cx="438.2" cy="48.3" r="0.95"/><circle cx="439.3" cy="56.0" r="0.95"/><circle cx="444.4" cy="58.2" r="0.95"/><circle cx="427.1" cy="59.3" r="0.95"/><circle cx="429.3" cy="58.2" r="0.95"/><circle cx="432.7" cy="59.3" r="0.95"/><circle cx="436.0" cy="61.5" r="0.95"/><circle cx="426.0" cy="66.0" r="0.95"/><circle cx="428.2" cy="68.2" r="0.95"/><circle cx="430.4" cy="69.3" r="0.95"/><circle cx="424.9" cy="71.5" r="0.95"/><circle cx="422.7" cy="70.4" r="0.95"/><circle cx="416.1" cy="71.5" r="0.95"/><circle cx="415.0" cy="73.7" r="0.95"/><circle cx="418.3" cy="74.8" r="0.95"/><circle cx="423.8" cy="75.9" r="0.95"/><circle cx="427.1" cy="73.7" r="0.95"/><circle cx="429.3" cy="71.5" r="0.95"/><circle cx="408.3" cy="80.4" r="0.95"/><circle cx="418.3" cy="78.1" r="0.95"/><circle cx="421.6" cy="82.6" r="0.95"/><circle cx="423.8" cy="82.6" r="0.95"/><circle cx="427.1" cy="84.8" r="0.95"/><circle cx="429.3" cy="82.6" r="0.95"/><circle cx="431.5" cy="87.0" r="0.95"/><circle cx="433.8" cy="84.8" r="0.95"/><circle cx="427.1" cy="88.1" r="0.95"/><circle cx="424.9" cy="89.2" r="0.95"/><circle cx="430.4" cy="89.2" r="0.95"/><circle cx="420.5" cy="88.1" r="0.95"/><circle cx="436.0" cy="89.2" r="0.95"/><circle cx="439.3" cy="88.1" r="0.95"/><circle cx="441.5" cy="89.2" r="0.95"/><circle cx="433.8" cy="89.2" r="0.95"/></g>
<rect x="466.70" y="37.20" width="53.00" height="54.40" fill="#eef0f4" stroke="none" stroke-width="1"/>
<text x="466.5" y="35.6" font-size="8.7" text-anchor="start" fill="#2b2b2b"><tspan font-style="italic">r</tspan> = 0.05</text>
<text x="481.9" y="99.6" font-size="8.7" text-anchor="start" fill="#2b2b2b"><tspan font-style="italic">P</tspan> = 0.743</text>
<g fill="#a8235e"><circle cx="470.3" cy="39.4" r="0.95"/><circle cx="471.4" cy="43.8" r="0.95"/><circle cx="473.6" cy="41.6" r="0.95"/><circle cx="475.8" cy="45.0" r="0.95"/><circle cx="478.0" cy="46.1" r="0.95"/><circle cx="479.1" cy="48.3" r="0.95"/><circle cx="480.2" cy="43.8" r="0.95"/><circle cx="481.3" cy="47.2" r="0.95"/><circle cx="478.0" cy="50.5" r="0.95"/><circle cx="476.9" cy="52.7" r="0.95"/><circle cx="471.4" cy="49.4" r="0.95"/><circle cx="470.3" cy="52.7" r="0.95"/><circle cx="482.4" cy="56.0" r="0.95"/><circle cx="484.6" cy="41.6" r="0.95"/><circle cx="488.0" cy="39.4" r="0.95"/><circle cx="491.3" cy="45.0" r="0.95"/><circle cx="494.6" cy="39.4" r="0.95"/><circle cx="496.8" cy="47.2" r="0.95"/><circle cx="495.7" cy="51.6" r="0.95"/><circle cx="503.5" cy="47.2" r="0.95"/><circle cx="489.1" cy="52.7" r="0.95"/><circle cx="492.4" cy="60.4" r="0.95"/><circle cx="488.0" cy="63.8" r="0.95"/><circle cx="475.8" cy="60.4" r="0.95"/><circle cx="473.6" cy="61.5" r="0.95"/><circle cx="505.7" cy="62.7" r="0.95"/><circle cx="476.9" cy="68.2" r="0.95"/><circle cx="472.5" cy="73.7" r="0.95"/><circle cx="473.6" cy="75.9" r="0.95"/><circle cx="469.2" cy="77.0" r="0.95"/><circle cx="475.8" cy="85.9" r="0.95"/><circle cx="476.9" cy="88.1" r="0.95"/><circle cx="481.3" cy="89.2" r="0.95"/><circle cx="484.6" cy="87.0" r="0.95"/><circle cx="491.3" cy="84.8" r="0.95"/><circle cx="502.3" cy="87.0" r="0.95"/><circle cx="468.1" cy="85.9" r="0.95"/></g>
<rect x="293.40" y="124.90" width="53.00" height="53.10" fill="#eef0f4" stroke="none" stroke-width="1"/>
<text x="294.2" y="120.9" font-size="8.7" text-anchor="start" fill="#2b2b2b"><tspan font-style="italic">r</tspan> = 0.27</text>
<text x="310.4" y="188.5" font-size="8.7" text-anchor="start" fill="#2b2b2b"><tspan font-style="italic">P</tspan> &lt; 0.001</text>
<g fill="#a8235e"><circle cx="317.1" cy="148.2" r="0.95"/><circle cx="296.5" cy="157.4" r="0.95"/><circle cx="327.7" cy="137.1" r="0.95"/><circle cx="325.9" cy="147.4" r="0.95"/><circle cx="322.5" cy="150.6" r="0.95"/><circle cx="299.8" cy="146.9" r="0.95"/><circle cx="334.7" cy="144.6" r="0.95"/><circle cx="305.3" cy="139.6" r="0.95"/><circle cx="303.0" cy="150.4" r="0.95"/><circle cx="337.0" cy="151.0" r="0.95"/><circle cx="320.1" cy="162.5" r="0.95"/><circle cx="311.2" cy="144.0" r="0.95"/><circle cx="323.4" cy="151.8" r="0.95"/><circle cx="305.4" cy="140.8" r="0.95"/><circle cx="320.6" cy="149.8" r="0.95"/><circle cx="302.0" cy="147.0" r="0.95"/><circle cx="310.9" cy="151.2" r="0.95"/><circle cx="315.9" cy="147.7" r="0.95"/><circle cx="313.1" cy="155.0" r="0.95"/><circle cx="333.5" cy="145.9" r="0.95"/><circle cx="327.1" cy="143.4" r="0.95"/><circle cx="318.1" cy="153.0" r="0.95"/><circle cx="334.9" cy="145.8" r="0.95"/><circle cx="316.4" cy="149.5" r="0.95"/><circle cx="299.8" cy="148.4" r="0.95"/><circle cx="309.4" cy="150.6" r="0.95"/><circle cx="304.1" cy="135.7" r="0.95"/><circle cx="317.7" cy="149.9" r="0.95"/><circle cx="310.8" cy="153.9" r="0.95"/><circle cx="314.1" cy="144.4" r="0.95"/><circle cx="322.8" cy="138.3" r="0.95"/><circle cx="309.4" cy="148.1" r="0.95"/><circle cx="327.1" cy="147.2" r="0.95"/><circle cx="320.8" cy="144.1" r="0.95"/><circle cx="320.8" cy="158.9" r="0.95"/><circle cx="309.2" cy="163.3" r="0.95"/><circle cx="309.7" cy="148.4" r="0.95"/><circle cx="319.3" cy="154.8" r="0.95"/><circle cx="302.8" cy="134.9" r="0.95"/><circle cx="324.3" cy="153.3" r="0.95"/><circle cx="324.5" cy="165.0" r="0.95"/><circle cx="319.6" cy="149.9" r="0.95"/><circle cx="328.1" cy="150.6" r="0.95"/><circle cx="336.6" cy="140.4" r="0.95"/><circle cx="312.9" cy="126.3" r="0.95"/><circle cx="326.7" cy="145.9" r="0.95"/><circle cx="328.0" cy="162.0" r="0.95"/><circle cx="317.2" cy="146.6" r="0.95"/><circle cx="311.4" cy="142.9" r="0.95"/><circle cx="309.9" cy="152.3" r="0.95"/><circle cx="317.7" cy="148.7" r="0.95"/><circle cx="315.2" cy="154.1" r="0.95"/><circle cx="323.0" cy="147.4" r="0.95"/><circle cx="325.0" cy="147.3" r="0.95"/><circle cx="303.8" cy="157.5" r="0.95"/><circle cx="322.7" cy="142.2" r="0.95"/><circle cx="329.8" cy="150.5" r="0.95"/><circle cx="299.0" cy="158.5" r="0.95"/><circle cx="321.1" cy="153.9" r="0.95"/><circle cx="319.6" cy="147.3" r="0.95"/><circle cx="299.2" cy="154.5" r="0.95"/><circle cx="317.6" cy="146.4" r="0.95"/><circle cx="321.3" cy="148.8" r="0.95"/><circle cx="325.1" cy="145.9" r="0.95"/><circle cx="316.8" cy="134.6" r="0.95"/><circle cx="312.3" cy="152.6" r="0.95"/><circle cx="332.8" cy="145.9" r="0.95"/><circle cx="315.8" cy="158.4" r="0.95"/><circle cx="313.5" cy="152.9" r="0.95"/><circle cx="336.8" cy="148.5" r="0.95"/><circle cx="331.6" cy="143.7" r="0.95"/><circle cx="319.7" cy="147.8" r="0.95"/><circle cx="318.6" cy="155.5" r="0.95"/><circle cx="345.1" cy="144.0" r="0.95"/><circle cx="310.5" cy="151.4" r="0.95"/><circle cx="304.9" cy="151.4" r="0.95"/><circle cx="323.9" cy="146.5" r="0.95"/><circle cx="323.4" cy="138.4" r="0.95"/><circle cx="326.1" cy="138.4" r="0.95"/><circle cx="309.1" cy="144.7" r="0.95"/><circle cx="312.6" cy="153.7" r="0.95"/><circle cx="318.2" cy="145.7" r="0.95"/><circle cx="323.6" cy="158.3" r="0.95"/><circle cx="317.3" cy="150.6" r="0.95"/><circle cx="331.7" cy="150.0" r="0.95"/><circle cx="302.3" cy="164.1" r="0.95"/><circle cx="343.0" cy="135.6" r="0.95"/><circle cx="316.8" cy="150.9" r="0.95"/><circle cx="328.5" cy="152.5" r="0.95"/><circle cx="314.1" cy="141.5" r="0.95"/><circle cx="318.5" cy="154.8" r="0.95"/><circle cx="304.5" cy="141.7" r="0.95"/><circle cx="317.0" cy="135.9" r="0.95"/><circle cx="314.2" cy="145.5" r="0.95"/><circle cx="322.5" cy="143.8" r="0.95"/><circle cx="307.0" cy="145.8" r="0.95"/><circle cx="316.7" cy="144.0" r="0.95"/><circle cx="317.4" cy="153.0" r="0.95"/><circle cx="331.1" cy="159.1" r="0.95"/><circle cx="308.1" cy="145.6" r="0.95"/><circle cx="308.8" cy="148.1" r="0.95"/><circle cx="323.3" cy="139.6" r="0.95"/><circle cx="322.7" cy="148.1" r="0.95"/><circle cx="296.0" cy="150.1" r="0.95"/><circle cx="331.2" cy="136.4" r="0.95"/><circle cx="297.7" cy="151.3" r="0.95"/><circle cx="300.8" cy="147.6" r="0.95"/><circle cx="334.7" cy="161.6" r="0.95"/><circle cx="333.0" cy="154.1" r="0.95"/><circle cx="330.5" cy="156.8" r="0.95"/><circle cx="306.4" cy="168.5" r="0.95"/><circle cx="333.6" cy="144.6" r="0.95"/><circle cx="319.7" cy="162.9" r="0.95"/><circle cx="304.7" cy="153.9" r="0.95"/><circle cx="301.7" cy="148.1" r="0.95"/><circle cx="306.2" cy="162.2" r="0.95"/><circle cx="322.0" cy="148.1" r="0.95"/><circle cx="296.5" cy="152.5" r="0.95"/><circle cx="323.0" cy="147.4" r="0.95"/><circle cx="308.5" cy="148.1" r="0.95"/><circle cx="327.7" cy="160.3" r="0.95"/><circle cx="298.6" cy="144.4" r="0.95"/><circle cx="311.8" cy="160.4" r="0.95"/><circle cx="321.5" cy="144.1" r="0.95"/><circle cx="302.6" cy="165.6" r="0.95"/><circle cx="312.3" cy="150.9" r="0.95"/><circle cx="308.3" cy="174.7" r="0.95"/><circle cx="308.5" cy="161.0" r="0.95"/><circle cx="310.2" cy="155.6" r="0.95"/><circle cx="330.4" cy="176.3" r="0.95"/><circle cx="310.5" cy="147.8" r="0.95"/><circle cx="325.0" cy="148.1" r="0.95"/><circle cx="296.3" cy="172.9" r="0.95"/><circle cx="312.9" cy="170.0" r="0.95"/><circle cx="312.2" cy="172.2" r="0.95"/><circle cx="314.4" cy="146.6" r="0.95"/><circle cx="296.6" cy="160.5" r="0.95"/><circle cx="321.5" cy="173.2" r="0.95"/><circle cx="299.6" cy="163.0" r="0.95"/><circle cx="310.8" cy="158.8" r="0.95"/></g>
<rect x="351.20" y="124.90" width="53.00" height="53.10" fill="#eef0f4" stroke="none" stroke-width="1"/>
<text x="352.0" y="120.9" font-size="8.7" text-anchor="start" fill="#2b2b2b"><tspan font-style="italic">r</tspan> = 0.20</text>
<text x="367.4" y="188.5" font-size="8.7" text-anchor="start" fill="#2b2b2b"><tspan font-style="italic">P</tspan> = 0.014</text>
<g fill="#a8235e"><circle cx="377.7" cy="153.8" r="0.95"/><circle cx="381.9" cy="154.5" r="0.95"/><circle cx="381.7" cy="127.4" r="0.95"/><circle cx="374.2" cy="152.4" r="0.95"/><circle cx="399.5" cy="140.2" r="0.95"/><circle cx="368.9" cy="148.6" r="0.95"/><circle cx="381.8" cy="144.5" r="0.95"/><circle cx="384.6" cy="141.6" r="0.95"/><circle cx="375.2" cy="143.8" r="0.95"/><circle cx="374.1" cy="142.4" r="0.95"/><circle cx="355.5" cy="157.6" r="0.95"/><circle cx="375.6" cy="143.5" r="0.95"/><circle cx="374.5" cy="156.7" r="0.95"/><circle cx="362.0" cy="147.3" r="0.95"/><circle cx="378.1" cy="152.7" r="0.95"/><circle cx="368.8" cy="130.4" r="0.95"/><circle cx="385.6" cy="151.1" r="0.95"/><circle cx="372.5" cy="145.9" r="0.95"/><circle cx="375.2" cy="144.6" r="0.95"/><circle cx="361.5" cy="142.0" r="0.95"/><circle cx="366.1" cy="143.1" r="0.95"/><circle cx="360.1" cy="153.7" r="0.95"/><circle cx="358.5" cy="153.9" r="0.95"/><circle cx="361.6" cy="151.3" r="0.95"/><circle cx="387.0" cy="150.0" r="0.95"/><circle cx="364.7" cy="148.7" r="0.95"/><circle cx="374.0" cy="133.5" r="0.95"/><circle cx="366.0" cy="149.6" r="0.95"/><circle cx="367.4" cy="148.9" r="0.95"/><circle cx="380.2" cy="154.8" r="0.95"/><circle cx="382.0" cy="153.3" r="0.95"/><circle cx="369.3" cy="148.1" r="0.95"/><circle cx="369.5" cy="145.6" r="0.95"/><circle cx="370.5" cy="133.6" r="0.95"/><circle cx="368.9" cy="148.1" r="0.95"/><circle cx="362.1" cy="148.1" r="0.95"/><circle cx="377.9" cy="146.9" r="0.95"/><circle cx="394.4" cy="126.1" r="0.95"/><circle cx="370.2" cy="132.8" r="0.95"/><circle cx="382.8" cy="170.8" r="0.95"/><circle cx="377.9" cy="145.7" r="0.95"/><circle cx="378.2" cy="129.2" r="0.95"/><circle cx="381.4" cy="151.4" r="0.95"/><circle cx="372.6" cy="143.3" r="0.95"/><circle cx="379.2" cy="144.1" r="0.95"/><circle cx="374.8" cy="143.9" r="0.95"/><circle cx="374.5" cy="154.7" r="0.95"/><circle cx="363.1" cy="148.0" r="0.95"/><circle cx="378.9" cy="149.5" r="0.95"/><circle cx="385.6" cy="165.2" r="0.95"/><circle cx="362.8" cy="131.9" r="0.95"/><circle cx="381.5" cy="161.3" r="0.95"/><circle cx="382.2" cy="155.2" r="0.95"/><circle cx="365.8" cy="142.2" r="0.95"/><circle cx="381.8" cy="140.5" r="0.95"/><circle cx="353.2" cy="139.8" r="0.95"/><circle cx="398.8" cy="164.6" r="0.95"/><circle cx="365.1" cy="142.1" r="0.95"/><circle cx="374.9" cy="141.9" r="0.95"/><circle cx="386.3" cy="147.6" r="0.95"/><circle cx="360.9" cy="159.4" r="0.95"/><circle cx="366.2" cy="150.1" r="0.95"/><circle cx="372.3" cy="145.6" r="0.95"/><circle cx="375.8" cy="142.4" r="0.95"/><circle cx="352.8" cy="129.5" r="0.95"/><circle cx="359.0" cy="141.8" r="0.95"/><circle cx="372.2" cy="148.7" r="0.95"/><circle cx="378.3" cy="149.3" r="0.95"/><circle cx="364.0" cy="142.2" r="0.95"/><circle cx="377.5" cy="152.8" r="0.95"/><circle cx="371.1" cy="146.8" r="0.95"/><circle cx="382.3" cy="148.4" r="0.95"/><circle cx="380.2" cy="153.2" r="0.95"/><circle cx="374.7" cy="159.4" r="0.95"/><circle cx="366.3" cy="145.2" r="0.95"/><circle cx="363.8" cy="141.5" r="0.95"/><circle cx="388.9" cy="163.2" r="0.95"/><circle cx="372.6" cy="153.1" r="0.95"/><circle cx="384.9" cy="155.1" r="0.95"/><circle cx="385.2" cy="137.5" r="0.95"/><circle cx="365.6" cy="152.1" r="0.95"/><circle cx="387.6" cy="149.1" r="0.95"/><circle cx="363.3" cy="145.3" r="0.95"/><circle cx="365.4" cy="141.0" r="0.95"/><circle cx="388.3" cy="142.9" r="0.95"/><circle cx="372.6" cy="166.6" r="0.95"/><circle cx="385.0" cy="151.1" r="0.95"/><circle cx="365.9" cy="151.7" r="0.95"/><circle cx="389.6" cy="153.6" r="0.95"/><circle cx="385.8" cy="149.1" r="0.95"/><circle cx="377.9" cy="146.6" r="0.95"/><circle cx="376.9" cy="159.3" r="0.95"/><circle cx="357.2" cy="147.7" r="0.95"/><circle cx="374.9" cy="143.4" r="0.95"/><circle cx="369.1" cy="154.9" r="0.95"/><circle cx="393.6" cy="153.6" r="0.95"/><circle cx="375.9" cy="135.1" r="0.95"/><circle cx="392.8" cy="148.9" r="0.95"/><circle cx="372.0" cy="138.8" r="0.95"/><circle cx="371.8" cy="139.0" r="0.95"/><circle cx="373.2" cy="152.2" r="0.95"/><circle cx="372.7" cy="150.6" r="0.95"/><circle cx="363.4" cy="160.4" r="0.95"/><circle cx="365.5" cy="132.8" r="0.95"/><circle cx="370.4" cy="141.8" r="0.95"/><circle cx="361.7" cy="145.2" r="0.95"/><circle cx="375.5" cy="138.2" r="0.95"/><circle cx="370.9" cy="160.4" r="0.95"/><circle cx="379.6" cy="147.0" r="0.95"/><circle cx="373.8" cy="147.2" r="0.95"/><circle cx="366.8" cy="144.9" r="0.95"/><circle cx="386.1" cy="173.1" r="0.95"/><circle cx="386.2" cy="148.5" r="0.95"/><circle cx="391.5" cy="148.6" r="0.95"/><circle cx="366.0" cy="171.7" r="0.95"/><circle cx="381.6" cy="163.1" r="0.95"/><circle cx="382.9" cy="174.5" r="0.95"/><circle cx="375.2" cy="169.0" r="0.95"/><circle cx="384.2" cy="169.7" r="0.95"/><circle cx="373.9" cy="164.4" r="0.95"/><circle cx="379.2" cy="147.8" r="0.95"/><circle cx="364.9" cy="160.3" r="0.95"/><circle cx="359.6" cy="171.8" r="0.95"/><circle cx="362.2" cy="136.6" r="0.95"/><circle cx="360.7" cy="172.5" r="0.95"/><circle cx="370.2" cy="141.2" r="0.95"/><circle cx="357.6" cy="137.2" r="0.95"/><circle cx="384.0" cy="160.8" r="0.95"/><circle cx="384.2" cy="164.9" r="0.95"/><circle cx="359.1" cy="159.0" r="0.95"/></g>
<rect x="408.90" y="124.90" width="53.00" height="53.10" fill="#eef0f4" stroke="none" stroke-width="1"/>
<text x="409.7" y="120.9" font-size="8.7" text-anchor="start" fill="#2b2b2b"><tspan font-style="italic">r</tspan> = 0.07</text>
<text x="420.4" y="188.5" font-size="8.7" text-anchor="start" fill="#2b2b2b"><tspan font-style="italic">P</tspan> = 0.597</text>
<g fill="#a8235e"><circle cx="440.4" cy="126.4" r="0.95"/><circle cx="415.0" cy="133.1" r="0.95"/><circle cx="418.3" cy="140.8" r="0.95"/><circle cx="419.4" cy="142.4" r="0.95"/><circle cx="420.5" cy="139.7" r="0.95"/><circle cx="421.6" cy="143.0" r="0.95"/><circle cx="422.7" cy="141.5" r="0.95"/><circle cx="423.8" cy="143.0" r="0.95"/><circle cx="424.9" cy="140.8" r="0.95"/><circle cx="426.0" cy="144.1" r="0.95"/><circle cx="427.1" cy="142.4" r="0.95"/><circle cx="429.3" cy="143.0" r="0.95"/><circle cx="430.4" cy="145.2" r="0.95"/><circle cx="431.5" cy="140.8" r="0.95"/><circle cx="432.7" cy="144.1" r="0.95"/><circle cx="433.8" cy="139.7" r="0.95"/><circle cx="434.9" cy="143.0" r="0.95"/><circle cx="436.0" cy="138.6" r="0.95"/><circle cx="437.1" cy="144.1" r="0.95"/><circle cx="439.3" cy="143.0" r="0.95"/><circle cx="440.4" cy="145.2" r="0.95"/><circle cx="441.5" cy="138.6" r="0.95"/><circle cx="443.7" cy="135.3" r="0.95"/><circle cx="427.1" cy="147.4" r="0.95"/><circle cx="428.2" cy="149.7" r="0.95"/><circle cx="430.4" cy="150.8" r="0.95"/><circle cx="432.7" cy="153.0" r="0.95"/><circle cx="434.9" cy="149.7" r="0.95"/><circle cx="436.0" cy="154.1" r="0.95"/><circle cx="438.2" cy="150.8" r="0.95"/><circle cx="440.4" cy="154.1" r="0.95"/><circle cx="443.7" cy="150.8" r="0.95"/><circle cx="417.2" cy="151.9" r="0.95"/><circle cx="416.1" cy="154.1" r="0.95"/><circle cx="409.4" cy="153.0" r="0.95"/><circle cx="423.8" cy="156.3" r="0.95"/><circle cx="426.0" cy="156.3" r="0.95"/><circle cx="428.2" cy="162.9" r="0.95"/><circle cx="427.1" cy="164.0" r="0.95"/><circle cx="432.7" cy="159.6" r="0.95"/><circle cx="436.0" cy="160.7" r="0.95"/><circle cx="438.2" cy="162.9" r="0.95"/><circle cx="440.4" cy="167.4" r="0.95"/><circle cx="432.7" cy="167.4" r="0.95"/><circle cx="420.5" cy="170.7" r="0.95"/><circle cx="426.0" cy="175.1" r="0.95"/><circle cx="411.6" cy="172.9" r="0.95"/><circle cx="418.3" cy="141.9" r="0.95"/><circle cx="422.3" cy="144.1" r="0.95"/><circle cx="424.5" cy="144.6" r="0.95"/><circle cx="428.9" cy="144.1" r="0.95"/><circle cx="433.3" cy="142.4" r="0.95"/><circle cx="437.7" cy="146.3" r="0.95"/><circle cx="424.5" cy="149.7" r="0.95"/></g>
<rect x="466.70" y="124.90" width="53.00" height="53.10" fill="#eef0f4" stroke="none" stroke-width="1"/>
<text x="466.5" y="120.9" font-size="8.7" text-anchor="start" fill="#2b2b2b"><tspan font-style="italic">r</tspan> = 0.36</text>
<text x="481.9" y="188.5" font-size="8.7" text-anchor="start" fill="#2b2b2b"><tspan font-style="italic">P</tspan> = 0.021</text>
<g fill="#a8235e"><circle cx="480.2" cy="132.0" r="0.95"/><circle cx="470.3" cy="144.1" r="0.95"/><circle cx="472.5" cy="146.3" r="0.95"/><circle cx="471.4" cy="149.7" r="0.95"/><circle cx="473.6" cy="151.9" r="0.95"/><circle cx="471.4" cy="154.1" r="0.95"/><circle cx="474.7" cy="156.3" r="0.95"/><circle cx="476.9" cy="157.4" r="0.95"/><circle cx="475.8" cy="159.6" r="0.95"/><circle cx="478.0" cy="144.1" r="0.95"/><circle cx="480.2" cy="143.0" r="0.95"/><circle cx="479.1" cy="146.3" r="0.95"/><circle cx="481.3" cy="150.8" r="0.95"/><circle cx="483.5" cy="150.8" r="0.95"/><circle cx="484.6" cy="145.2" r="0.95"/><circle cx="486.9" cy="146.3" r="0.95"/><circle cx="485.8" cy="139.7" r="0.95"/><circle cx="488.0" cy="139.3" r="0.95"/><circle cx="491.3" cy="137.9" r="0.95"/><circle cx="493.5" cy="138.6" r="0.95"/><circle cx="495.7" cy="140.8" r="0.95"/><circle cx="496.8" cy="143.0" r="0.95"/><circle cx="494.6" cy="146.3" r="0.95"/><circle cx="505.7" cy="145.2" r="0.95"/><circle cx="502.3" cy="149.7" r="0.95"/><circle cx="503.5" cy="153.0" r="0.95"/><circle cx="476.9" cy="162.9" r="0.95"/><circle cx="481.3" cy="165.1" r="0.95"/><circle cx="482.4" cy="169.6" r="0.95"/><circle cx="488.0" cy="174.0" r="0.95"/><circle cx="495.7" cy="168.5" r="0.95"/><circle cx="469.2" cy="162.9" r="0.95"/><circle cx="466.9" cy="178.4" r="0.95"/><circle cx="478.0" cy="160.7" r="0.95"/></g>
<rect x="293.40" y="222.70" width="53.00" height="53.70" fill="#eef0f4" stroke="none" stroke-width="1"/>
<text x="294.2" y="220.6" font-size="8.7" text-anchor="start" fill="#2b2b2b"><tspan font-style="italic">r</tspan> = 0.01</text>
<text x="310.4" y="284.6" font-size="8.7" text-anchor="start" fill="#2b2b2b"><tspan font-style="italic">P</tspan> = 0.900</text>
<g fill="#a8235e"><circle cx="295.1" cy="250.5" r="0.95"/><circle cx="299.5" cy="229.2" r="0.95"/><circle cx="301.5" cy="246.7" r="0.95"/><circle cx="302.0" cy="233.6" r="0.95"/><circle cx="298.8" cy="244.2" r="0.95"/><circle cx="298.1" cy="242.6" r="0.95"/><circle cx="299.9" cy="231.9" r="0.95"/><circle cx="295.0" cy="232.5" r="0.95"/><circle cx="296.5" cy="237.6" r="0.95"/><circle cx="298.4" cy="243.2" r="0.95"/><circle cx="297.7" cy="237.1" r="0.95"/><circle cx="296.7" cy="247.6" r="0.95"/><circle cx="299.3" cy="242.1" r="0.95"/><circle cx="297.0" cy="251.5" r="0.95"/><circle cx="296.4" cy="245.7" r="0.95"/><circle cx="300.1" cy="239.8" r="0.95"/><circle cx="299.4" cy="234.3" r="0.95"/><circle cx="299.8" cy="242.8" r="0.95"/><circle cx="295.7" cy="249.8" r="0.95"/><circle cx="296.2" cy="240.4" r="0.95"/><circle cx="337.3" cy="238.8" r="0.95"/><circle cx="337.2" cy="237.0" r="0.95"/><circle cx="339.4" cy="241.5" r="0.95"/><circle cx="342.0" cy="241.8" r="0.95"/><circle cx="326.4" cy="242.3" r="0.95"/><circle cx="338.3" cy="250.1" r="0.95"/><circle cx="330.1" cy="254.0" r="0.95"/><circle cx="335.0" cy="260.8" r="0.95"/><circle cx="335.0" cy="247.0" r="0.95"/><circle cx="333.9" cy="232.5" r="0.95"/><circle cx="341.6" cy="248.8" r="0.95"/><circle cx="344.0" cy="248.4" r="0.95"/><circle cx="332.8" cy="228.1" r="0.95"/><circle cx="332.4" cy="236.1" r="0.95"/><circle cx="331.5" cy="246.2" r="0.95"/><circle cx="337.5" cy="239.3" r="0.95"/><circle cx="336.7" cy="240.3" r="0.95"/><circle cx="336.9" cy="247.6" r="0.95"/><circle cx="340.9" cy="236.0" r="0.95"/><circle cx="327.8" cy="253.0" r="0.95"/><circle cx="336.4" cy="250.4" r="0.95"/><circle cx="327.1" cy="238.8" r="0.95"/><circle cx="335.9" cy="229.9" r="0.95"/><circle cx="333.1" cy="247.3" r="0.95"/><circle cx="341.5" cy="254.3" r="0.95"/><circle cx="331.2" cy="230.2" r="0.95"/><circle cx="338.6" cy="249.1" r="0.95"/><circle cx="336.8" cy="231.0" r="0.95"/><circle cx="339.9" cy="247.9" r="0.95"/><circle cx="338.7" cy="237.6" r="0.95"/><circle cx="337.4" cy="247.9" r="0.95"/><circle cx="332.8" cy="226.6" r="0.95"/><circle cx="337.5" cy="245.4" r="0.95"/><circle cx="335.9" cy="248.7" r="0.95"/><circle cx="332.7" cy="240.8" r="0.95"/><circle cx="334.2" cy="246.1" r="0.95"/><circle cx="344.3" cy="239.5" r="0.95"/><circle cx="340.0" cy="246.2" r="0.95"/><circle cx="345.2" cy="240.0" r="0.95"/><circle cx="335.2" cy="232.9" r="0.95"/><circle cx="338.3" cy="252.3" r="0.95"/><circle cx="338.6" cy="244.9" r="0.95"/><circle cx="334.7" cy="242.9" r="0.95"/><circle cx="328.2" cy="249.9" r="0.95"/><circle cx="333.6" cy="232.6" r="0.95"/><circle cx="331.8" cy="234.9" r="0.95"/><circle cx="340.3" cy="250.0" r="0.95"/><circle cx="328.6" cy="249.0" r="0.95"/><circle cx="340.5" cy="236.8" r="0.95"/><circle cx="327.9" cy="235.5" r="0.95"/><circle cx="332.4" cy="244.3" r="0.95"/><circle cx="333.9" cy="225.2" r="0.95"/><circle cx="337.0" cy="229.1" r="0.95"/><circle cx="340.6" cy="231.8" r="0.95"/><circle cx="332.1" cy="234.6" r="0.95"/><circle cx="332.9" cy="252.0" r="0.95"/><circle cx="340.3" cy="246.3" r="0.95"/><circle cx="337.5" cy="229.0" r="0.95"/><circle cx="333.0" cy="237.1" r="0.95"/><circle cx="330.6" cy="245.6" r="0.95"/><circle cx="331.9" cy="235.8" r="0.95"/><circle cx="330.3" cy="224.9" r="0.95"/><circle cx="339.0" cy="252.2" r="0.95"/><circle cx="336.7" cy="233.6" r="0.95"/><circle cx="321.5" cy="242.9" r="0.95"/><circle cx="342.2" cy="243.9" r="0.95"/><circle cx="340.7" cy="253.4" r="0.95"/><circle cx="341.8" cy="237.9" r="0.95"/><circle cx="341.4" cy="247.7" r="0.95"/><circle cx="327.7" cy="238.2" r="0.95"/><circle cx="320.5" cy="257.2" r="0.95"/><circle cx="335.6" cy="251.9" r="0.95"/><circle cx="315.6" cy="271.3" r="0.95"/><circle cx="306.1" cy="259.3" r="0.95"/><circle cx="314.8" cy="262.9" r="0.95"/><circle cx="301.9" cy="273.0" r="0.95"/><circle cx="313.0" cy="230.7" r="0.95"/><circle cx="309.1" cy="246.3" r="0.95"/><circle cx="296.7" cy="247.2" r="0.95"/><circle cx="316.1" cy="259.9" r="0.95"/><circle cx="312.8" cy="240.2" r="0.95"/><circle cx="306.8" cy="261.9" r="0.95"/><circle cx="340.9" cy="252.1" r="0.95"/><circle cx="306.5" cy="264.7" r="0.95"/><circle cx="314.7" cy="237.7" r="0.95"/><circle cx="302.2" cy="263.5" r="0.95"/><circle cx="334.7" cy="257.0" r="0.95"/><circle cx="318.4" cy="253.7" r="0.95"/><circle cx="306.8" cy="272.1" r="0.95"/><circle cx="312.9" cy="257.2" r="0.95"/><circle cx="335.1" cy="265.3" r="0.95"/><circle cx="318.4" cy="241.5" r="0.95"/><circle cx="322.2" cy="233.8" r="0.95"/><circle cx="335.8" cy="244.3" r="0.95"/><circle cx="336.6" cy="240.3" r="0.95"/><circle cx="314.0" cy="239.6" r="0.95"/><circle cx="316.4" cy="236.6" r="0.95"/><circle cx="296.2" cy="261.0" r="0.95"/><circle cx="309.5" cy="239.3" r="0.95"/><circle cx="310.4" cy="250.0" r="0.95"/><circle cx="316.5" cy="257.2" r="0.95"/><circle cx="327.5" cy="244.6" r="0.95"/><circle cx="340.4" cy="267.1" r="0.95"/><circle cx="298.8" cy="265.9" r="0.95"/><circle cx="339.3" cy="263.9" r="0.95"/><circle cx="302.7" cy="266.0" r="0.95"/><circle cx="326.3" cy="228.8" r="0.95"/><circle cx="296.6" cy="271.5" r="0.95"/><circle cx="327.3" cy="239.5" r="0.95"/><circle cx="300.9" cy="234.6" r="0.95"/><circle cx="307.2" cy="263.5" r="0.95"/><circle cx="312.6" cy="235.0" r="0.95"/><circle cx="339.2" cy="264.2" r="0.95"/><circle cx="304.1" cy="268.7" r="0.95"/><circle cx="325.1" cy="263.7" r="0.95"/><circle cx="327.9" cy="268.9" r="0.95"/><circle cx="333.6" cy="266.4" r="0.95"/><circle cx="305.5" cy="259.7" r="0.95"/><circle cx="321.4" cy="261.9" r="0.95"/><circle cx="317.0" cy="268.4" r="0.95"/></g>
<rect x="351.20" y="222.70" width="53.00" height="53.70" fill="#eef0f4" stroke="none" stroke-width="1"/>
<text x="352.0" y="220.6" font-size="8.7" text-anchor="start" fill="#2b2b2b"><tspan font-style="italic">r</tspan> = 0.12</text>
<text x="367.4" y="284.6" font-size="8.7" text-anchor="start" fill="#2b2b2b"><tspan font-style="italic">P</tspan> = 0.150</text>
<g fill="#a8235e"><circle cx="354.5" cy="237.1" r="0.95"/><circle cx="356.6" cy="242.3" r="0.95"/><circle cx="355.6" cy="238.9" r="0.95"/><circle cx="355.1" cy="239.5" r="0.95"/><circle cx="353.4" cy="239.2" r="0.95"/><circle cx="361.6" cy="239.3" r="0.95"/><circle cx="353.2" cy="240.5" r="0.95"/><circle cx="353.9" cy="228.2" r="0.95"/><circle cx="354.5" cy="243.6" r="0.95"/><circle cx="357.5" cy="238.2" r="0.95"/><circle cx="354.0" cy="231.9" r="0.95"/><circle cx="360.1" cy="240.4" r="0.95"/><circle cx="354.0" cy="225.2" r="0.95"/><circle cx="352.9" cy="254.8" r="0.95"/><circle cx="353.5" cy="238.3" r="0.95"/><circle cx="357.1" cy="237.8" r="0.95"/><circle cx="355.8" cy="230.0" r="0.95"/><circle cx="353.7" cy="249.7" r="0.95"/><circle cx="388.8" cy="249.9" r="0.95"/><circle cx="382.8" cy="240.9" r="0.95"/><circle cx="395.3" cy="251.5" r="0.95"/><circle cx="386.5" cy="247.9" r="0.95"/><circle cx="396.1" cy="237.2" r="0.95"/><circle cx="396.6" cy="235.9" r="0.95"/><circle cx="388.5" cy="243.0" r="0.95"/><circle cx="376.3" cy="242.2" r="0.95"/><circle cx="387.2" cy="231.3" r="0.95"/><circle cx="390.9" cy="249.3" r="0.95"/><circle cx="391.0" cy="253.3" r="0.95"/><circle cx="386.2" cy="232.5" r="0.95"/><circle cx="399.6" cy="236.4" r="0.95"/><circle cx="398.7" cy="245.2" r="0.95"/><circle cx="397.7" cy="243.3" r="0.95"/><circle cx="401.3" cy="237.9" r="0.95"/><circle cx="387.5" cy="231.2" r="0.95"/><circle cx="401.0" cy="237.2" r="0.95"/><circle cx="387.0" cy="235.5" r="0.95"/><circle cx="390.8" cy="232.9" r="0.95"/><circle cx="391.8" cy="238.1" r="0.95"/><circle cx="390.1" cy="235.4" r="0.95"/><circle cx="393.8" cy="239.4" r="0.95"/><circle cx="394.3" cy="245.1" r="0.95"/><circle cx="395.8" cy="225.5" r="0.95"/><circle cx="390.2" cy="236.7" r="0.95"/><circle cx="398.5" cy="230.4" r="0.95"/><circle cx="389.1" cy="240.7" r="0.95"/><circle cx="391.5" cy="251.1" r="0.95"/><circle cx="390.8" cy="250.9" r="0.95"/><circle cx="384.3" cy="228.5" r="0.95"/><circle cx="401.4" cy="246.6" r="0.95"/><circle cx="396.7" cy="244.1" r="0.95"/><circle cx="396.7" cy="233.3" r="0.95"/><circle cx="399.6" cy="238.8" r="0.95"/><circle cx="399.9" cy="243.8" r="0.95"/><circle cx="381.0" cy="232.7" r="0.95"/><circle cx="400.8" cy="242.0" r="0.95"/><circle cx="391.1" cy="245.1" r="0.95"/><circle cx="390.9" cy="238.7" r="0.95"/><circle cx="394.3" cy="244.3" r="0.95"/><circle cx="394.4" cy="244.2" r="0.95"/><circle cx="392.7" cy="237.2" r="0.95"/><circle cx="393.2" cy="237.9" r="0.95"/><circle cx="390.8" cy="227.7" r="0.95"/><circle cx="393.3" cy="239.8" r="0.95"/><circle cx="386.7" cy="234.0" r="0.95"/><circle cx="379.3" cy="247.7" r="0.95"/><circle cx="393.2" cy="263.9" r="0.95"/><circle cx="393.4" cy="241.9" r="0.95"/><circle cx="402.8" cy="244.2" r="0.95"/><circle cx="394.7" cy="240.1" r="0.95"/><circle cx="389.8" cy="255.2" r="0.95"/><circle cx="400.0" cy="256.9" r="0.95"/><circle cx="391.4" cy="243.3" r="0.95"/><circle cx="388.0" cy="250.9" r="0.95"/><circle cx="384.7" cy="247.7" r="0.95"/><circle cx="400.6" cy="254.5" r="0.95"/><circle cx="387.6" cy="251.9" r="0.95"/><circle cx="389.1" cy="237.0" r="0.95"/><circle cx="385.2" cy="252.4" r="0.95"/><circle cx="388.8" cy="240.4" r="0.95"/><circle cx="390.1" cy="228.7" r="0.95"/><circle cx="389.3" cy="252.7" r="0.95"/><circle cx="389.2" cy="239.0" r="0.95"/><circle cx="381.6" cy="250.4" r="0.95"/><circle cx="386.7" cy="251.7" r="0.95"/><circle cx="382.7" cy="232.9" r="0.95"/><circle cx="395.4" cy="237.0" r="0.95"/><circle cx="398.6" cy="243.2" r="0.95"/><circle cx="386.1" cy="248.1" r="0.95"/><circle cx="399.0" cy="227.7" r="0.95"/><circle cx="398.4" cy="228.1" r="0.95"/><circle cx="389.0" cy="240.3" r="0.95"/><circle cx="400.5" cy="231.3" r="0.95"/><circle cx="386.5" cy="269.5" r="0.95"/><circle cx="370.4" cy="229.5" r="0.95"/><circle cx="380.3" cy="263.9" r="0.95"/><circle cx="363.4" cy="261.6" r="0.95"/><circle cx="398.3" cy="236.7" r="0.95"/><circle cx="382.8" cy="258.1" r="0.95"/><circle cx="376.0" cy="235.4" r="0.95"/><circle cx="366.0" cy="261.7" r="0.95"/><circle cx="391.6" cy="247.6" r="0.95"/><circle cx="358.0" cy="264.4" r="0.95"/><circle cx="390.7" cy="236.6" r="0.95"/><circle cx="381.5" cy="268.7" r="0.95"/><circle cx="396.1" cy="250.6" r="0.95"/><circle cx="376.6" cy="253.9" r="0.95"/><circle cx="362.9" cy="234.7" r="0.95"/><circle cx="362.5" cy="259.3" r="0.95"/><circle cx="371.2" cy="252.7" r="0.95"/><circle cx="373.0" cy="250.4" r="0.95"/><circle cx="361.0" cy="227.5" r="0.95"/><circle cx="401.4" cy="243.5" r="0.95"/><circle cx="358.9" cy="256.0" r="0.95"/><circle cx="391.4" cy="232.9" r="0.95"/><circle cx="382.3" cy="242.1" r="0.95"/><circle cx="378.6" cy="226.4" r="0.95"/><circle cx="355.5" cy="273.3" r="0.95"/><circle cx="395.2" cy="248.9" r="0.95"/><circle cx="380.9" cy="238.0" r="0.95"/><circle cx="391.0" cy="246.0" r="0.95"/><circle cx="399.0" cy="262.5" r="0.95"/><circle cx="392.9" cy="271.9" r="0.95"/><circle cx="366.0" cy="227.2" r="0.95"/><circle cx="363.4" cy="234.1" r="0.95"/><circle cx="357.8" cy="227.8" r="0.95"/><circle cx="380.4" cy="267.5" r="0.95"/><circle cx="375.7" cy="271.2" r="0.95"/><circle cx="397.3" cy="228.5" r="0.95"/><circle cx="382.4" cy="244.6" r="0.95"/><circle cx="359.6" cy="271.7" r="0.95"/><circle cx="366.1" cy="252.7" r="0.95"/><circle cx="384.4" cy="271.6" r="0.95"/><circle cx="385.8" cy="244.4" r="0.95"/><circle cx="375.2" cy="233.1" r="0.95"/><circle cx="399.9" cy="273.3" r="0.95"/><circle cx="364.4" cy="227.3" r="0.95"/><circle cx="366.1" cy="242.4" r="0.95"/><circle cx="396.9" cy="269.1" r="0.95"/><circle cx="393.8" cy="227.7" r="0.95"/><circle cx="391.4" cy="259.7" r="0.95"/><circle cx="384.7" cy="273.0" r="0.95"/><circle cx="356.5" cy="232.4" r="0.95"/><circle cx="389.9" cy="270.8" r="0.95"/><circle cx="386.1" cy="239.8" r="0.95"/><circle cx="382.1" cy="262.0" r="0.95"/><circle cx="358.9" cy="241.0" r="0.95"/><circle cx="366.1" cy="231.4" r="0.95"/></g>
<rect x="408.90" y="222.70" width="53.00" height="53.70" fill="#eef0f4" stroke="none" stroke-width="1"/>
<text x="409.7" y="220.6" font-size="8.7" text-anchor="start" fill="#2b2b2b"><tspan font-style="italic">r</tspan> = 0.67</text>
<text x="420.4" y="284.6" font-size="8.7" text-anchor="start" fill="#2b2b2b"><tspan font-style="italic">P</tspan> &lt; 0.0001</text>
<g fill="#a8235e"><circle cx="409.4" cy="241.0" r="0.95"/><circle cx="411.2" cy="241.0" r="0.95"/><circle cx="409.0" cy="249.9" r="0.95"/><circle cx="412.7" cy="251.0" r="0.95"/><circle cx="415.0" cy="248.8" r="0.95"/><circle cx="411.6" cy="253.2" r="0.95"/><circle cx="417.2" cy="254.3" r="0.95"/><circle cx="418.3" cy="252.1" r="0.95"/><circle cx="421.6" cy="253.2" r="0.95"/><circle cx="422.3" cy="255.0" r="0.95"/><circle cx="409.4" cy="258.7" r="0.95"/><circle cx="410.5" cy="260.9" r="0.95"/><circle cx="409.0" cy="264.2" r="0.95"/><circle cx="412.7" cy="263.1" r="0.95"/><circle cx="413.8" cy="267.6" r="0.95"/><circle cx="409.9" cy="268.7" r="0.95"/><circle cx="408.3" cy="272.7" r="0.95"/><circle cx="427.1" cy="237.7" r="0.95"/><circle cx="429.3" cy="236.6" r="0.95"/><circle cx="431.5" cy="237.7" r="0.95"/><circle cx="426.0" cy="241.0" r="0.95"/><circle cx="429.3" cy="243.2" r="0.95"/><circle cx="433.3" cy="235.5" r="0.95"/><circle cx="427.1" cy="251.0" r="0.95"/><circle cx="428.2" cy="253.2" r="0.95"/><circle cx="439.3" cy="241.0" r="0.95"/><circle cx="440.4" cy="242.1" r="0.95"/><circle cx="438.2" cy="247.7" r="0.95"/><circle cx="441.5" cy="248.8" r="0.95"/><circle cx="437.7" cy="252.1" r="0.95"/><circle cx="443.7" cy="242.1" r="0.95"/><circle cx="447.0" cy="236.6" r="0.95"/><circle cx="449.2" cy="237.7" r="0.95"/><circle cx="450.4" cy="239.9" r="0.95"/><circle cx="452.6" cy="238.8" r="0.95"/><circle cx="453.7" cy="241.0" r="0.95"/><circle cx="455.4" cy="237.7" r="0.95"/><circle cx="457.0" cy="239.9" r="0.95"/><circle cx="458.1" cy="236.6" r="0.95"/><circle cx="459.2" cy="233.3" r="0.95"/><circle cx="452.6" cy="242.1" r="0.95"/><circle cx="454.8" cy="243.2" r="0.95"/><circle cx="458.1" cy="242.1" r="0.95"/><circle cx="449.2" cy="247.7" r="0.95"/><circle cx="445.9" cy="269.8" r="0.95"/><circle cx="457.0" cy="224.4" r="0.95"/><circle cx="450.4" cy="231.1" r="0.95"/><circle cx="444.4" cy="242.1" r="0.95"/><circle cx="451.9" cy="240.4" r="0.95"/><circle cx="456.3" cy="238.8" r="0.95"/><circle cx="459.0" cy="239.5" r="0.95"/><circle cx="454.1" cy="235.5" r="0.95"/></g>
<rect x="466.70" y="222.70" width="53.00" height="53.70" fill="#eef0f4" stroke="none" stroke-width="1"/>
<text x="466.5" y="220.6" font-size="8.7" text-anchor="start" fill="#2b2b2b"><tspan font-style="italic">r</tspan> = 0.39</text>
<text x="481.9" y="284.6" font-size="8.7" text-anchor="start" fill="#2b2b2b"><tspan font-style="italic">P</tspan> = 0.013</text>
<g fill="#a8235e"><circle cx="468.1" cy="247.7" r="0.95"/><circle cx="469.2" cy="248.8" r="0.95"/><circle cx="466.9" cy="263.1" r="0.95"/><circle cx="471.4" cy="235.5" r="0.95"/><circle cx="480.2" cy="254.3" r="0.95"/><circle cx="479.1" cy="260.9" r="0.95"/><circle cx="482.4" cy="244.3" r="0.95"/><circle cx="488.0" cy="243.2" r="0.95"/><circle cx="492.4" cy="242.1" r="0.95"/><circle cx="494.6" cy="235.5" r="0.95"/><circle cx="495.7" cy="255.4" r="0.95"/><circle cx="496.8" cy="262.0" r="0.95"/><circle cx="499.0" cy="258.7" r="0.95"/><circle cx="501.2" cy="239.9" r="0.95"/><circle cx="502.3" cy="266.5" r="0.95"/><circle cx="504.6" cy="248.8" r="0.95"/><circle cx="505.7" cy="253.2" r="0.95"/><circle cx="506.8" cy="255.4" r="0.95"/><circle cx="507.2" cy="260.9" r="0.95"/><circle cx="509.0" cy="230.0" r="0.95"/><circle cx="507.9" cy="242.1" r="0.95"/><circle cx="510.1" cy="241.0" r="0.95"/><circle cx="511.2" cy="239.9" r="0.95"/><circle cx="512.3" cy="243.2" r="0.95"/><circle cx="513.4" cy="242.1" r="0.95"/><circle cx="515.6" cy="236.6" r="0.95"/><circle cx="516.7" cy="244.3" r="0.95"/><circle cx="514.5" cy="247.7" r="0.95"/><circle cx="505.7" cy="266.5" r="0.95"/><circle cx="491.3" cy="272.0" r="0.95"/><circle cx="471.4" cy="276.4" r="0.95"/><circle cx="500.1" cy="251.0" r="0.95"/><circle cx="509.4" cy="238.8" r="0.95"/><circle cx="513.0" cy="238.1" r="0.95"/></g>
<line x1="293.40" y1="106.50" x2="389.50" y2="106.50" stroke="#4a4a4a" stroke-width="1.0"/>
<text x="406.3" y="109.6" font-size="8.7" text-anchor="middle" fill="#2b2b2b">MYC %</text>
<line x1="423.00" y1="106.50" x2="520.00" y2="106.50" stroke="#4a4a4a" stroke-width="1.0"/>
<line x1="293.40" y1="196.50" x2="389.50" y2="196.50" stroke="#4a4a4a" stroke-width="1.0"/>
<text x="406.3" y="199.8" font-size="8.7" text-anchor="middle" fill="#2b2b2b">MYC %</text>
<line x1="423.00" y1="196.50" x2="520.00" y2="196.50" stroke="#4a4a4a" stroke-width="1.0"/>
<line x1="293.00" y1="304.50" x2="388.70" y2="304.50" stroke="#4a4a4a" stroke-width="1.0"/>
<text x="406.9" y="307.7" font-size="8.7" text-anchor="middle" fill="#2b2b2b">BCL2 %</text>
<line x1="425.00" y1="304.50" x2="520.00" y2="304.50" stroke="#4a4a4a" stroke-width="1.0"/>
<line x1="265.50" y1="35.00" x2="265.50" y2="44.00" stroke="#4a4a4a" stroke-width="1.0"/>
<line x1="265.50" y1="83.40" x2="265.50" y2="94.00" stroke="#4a4a4a" stroke-width="1.0"/>
<text x="0.0" y="0.0" font-size="8.9" text-anchor="middle" fill="#2b2b2b" transform="translate(268.6,63.5) rotate(-90)">BCL2 %</text>
<line x1="265.50" y1="128.70" x2="265.50" y2="180.00" stroke="#4a4a4a" stroke-width="1.0"/>
<line x1="265.50" y1="222.40" x2="265.50" y2="271.60" stroke="#4a4a4a" stroke-width="1.0"/>
<text x="0.0" y="0.0" font-size="8.9" text-anchor="middle" fill="#2b2b2b" transform="translate(268.6,201.9) rotate(-90)">BCL6 %</text>
<line x1="285.50" y1="224.80" x2="285.50" y2="278.50" stroke="#222" stroke-width="1"/>
<line x1="283.60" y1="278.50" x2="285.80" y2="278.50" stroke="#222" stroke-width="0.8"/>
<line x1="284.50" y1="273.50" x2="285.80" y2="273.50" stroke="#222" stroke-width="0.8"/>
<line x1="284.50" y1="267.50" x2="285.80" y2="267.50" stroke="#222" stroke-width="0.8"/>
<line x1="284.50" y1="262.50" x2="285.80" y2="262.50" stroke="#222" stroke-width="0.8"/>
<line x1="284.50" y1="257.50" x2="285.80" y2="257.50" stroke="#222" stroke-width="0.8"/>
<line x1="284.50" y1="251.50" x2="285.80" y2="251.50" stroke="#222" stroke-width="0.8"/>
<line x1="284.50" y1="246.50" x2="285.80" y2="246.50" stroke="#222" stroke-width="0.8"/>
<line x1="284.50" y1="240.50" x2="285.80" y2="240.50" stroke="#222" stroke-width="0.8"/>
<line x1="284.50" y1="235.50" x2="285.80" y2="235.50" stroke="#222" stroke-width="0.8"/>
<line x1="284.50" y1="230.50" x2="285.80" y2="230.50" stroke="#222" stroke-width="0.8"/>
<line x1="283.60" y1="224.50" x2="285.80" y2="224.50" stroke="#222" stroke-width="0.8"/>
<text x="282.4" y="227.8" font-size="8.7" text-anchor="end" fill="#2b2b2b">100</text>
<text x="282.4" y="281.6" font-size="8.7" text-anchor="end" fill="#2b2b2b">0</text>
<line x1="293.30" y1="288.50" x2="347.00" y2="288.50" stroke="#222" stroke-width="1"/>
<line x1="293.50" y1="288.00" x2="293.50" y2="285.80" stroke="#222" stroke-width="0.8"/>
<line x1="298.50" y1="288.00" x2="298.50" y2="286.70" stroke="#222" stroke-width="0.8"/>
<line x1="304.50" y1="288.00" x2="304.50" y2="286.70" stroke="#222" stroke-width="0.8"/>
<line x1="309.50" y1="288.00" x2="309.50" y2="286.70" stroke="#222" stroke-width="0.8"/>
<line x1="314.50" y1="288.00" x2="314.50" y2="286.70" stroke="#222" stroke-width="0.8"/>
<line x1="320.50" y1="288.00" x2="320.50" y2="286.70" stroke="#222" stroke-width="0.8"/>
<line x1="325.50" y1="288.00" x2="325.50" y2="286.70" stroke="#222" stroke-width="0.8"/>
<line x1="330.50" y1="288.00" x2="330.50" y2="286.70" stroke="#222" stroke-width="0.8"/>
<line x1="336.50" y1="288.00" x2="336.50" y2="286.70" stroke="#222" stroke-width="0.8"/>
<line x1="341.50" y1="288.00" x2="341.50" y2="286.70" stroke="#222" stroke-width="0.8"/>
<line x1="346.50" y1="288.00" x2="346.50" y2="285.80" stroke="#222" stroke-width="0.8"/>
<text x="294.2" y="297.0" font-size="8.7" text-anchor="middle" fill="#2b2b2b">0</text>
<text x="347.0" y="297.0" font-size="8.7" text-anchor="middle" fill="#2b2b2b">100</text>
<text x="0.6" y="273.9" font-size="11" text-anchor="start" fill="#111" font-weight="bold">C</text>
<line x1="43.00" y1="277.50" x2="67.70" y2="277.50" stroke="#4a4a4a" stroke-width="1.0"/>
<text x="69.0" y="280.0" font-size="8.7" text-anchor="start" fill="#2b2b2b">Single-cell level</text>
<line x1="131.60" y1="277.50" x2="158.80" y2="277.50" stroke="#4a4a4a" stroke-width="1.0"/>
<text x="44.0" y="291.5" font-size="8.7" text-anchor="start" fill="#8a8a8a"><tspan font-style="italic">n</tspan> = 152</text>
<line x1="44.70" y1="345.70" x2="95.20" y2="294.50" stroke="#3a3a3a" stroke-width="1.05" stroke-dasharray="0.9,2.1"/>
<g fill="#b83a72"><circle cx="51.2" cy="339.6" r="0.9"/><circle cx="46.5" cy="344.6" r="0.9"/><circle cx="56.7" cy="336.0" r="0.9"/><circle cx="46.9" cy="343.7" r="0.9"/><circle cx="45.4" cy="345.7" r="0.9"/><circle cx="70.5" cy="319.3" r="0.9"/><circle cx="64.4" cy="326.7" r="0.9"/><circle cx="50.2" cy="339.8" r="0.9"/><circle cx="46.6" cy="345.6" r="0.9"/><circle cx="53.6" cy="335.6" r="0.9"/><circle cx="49.9" cy="339.3" r="0.9"/><circle cx="51.9" cy="340.4" r="0.9"/><circle cx="54.5" cy="336.5" r="0.9"/><circle cx="45.5" cy="345.4" r="0.9"/><circle cx="56.3" cy="333.3" r="0.9"/><circle cx="64.2" cy="325.9" r="0.9"/><circle cx="47.4" cy="342.5" r="0.9"/><circle cx="47.9" cy="342.8" r="0.9"/><circle cx="62.0" cy="327.9" r="0.9"/><circle cx="51.5" cy="339.5" r="0.9"/><circle cx="48.6" cy="342.3" r="0.9"/><circle cx="78.0" cy="311.8" r="0.9"/><circle cx="45.9" cy="345.7" r="0.9"/><circle cx="46.5" cy="342.9" r="0.9"/><circle cx="50.8" cy="339.4" r="0.9"/><circle cx="47.3" cy="343.9" r="0.9"/><circle cx="51.1" cy="343.4" r="0.9"/><circle cx="69.4" cy="320.6" r="0.9"/><circle cx="45.4" cy="344.4" r="0.9"/><circle cx="46.3" cy="346.2" r="0.9"/><circle cx="56.6" cy="332.7" r="0.9"/><circle cx="46.2" cy="346.9" r="0.9"/><circle cx="60.2" cy="329.7" r="0.9"/><circle cx="44.9" cy="345.9" r="0.9"/><circle cx="61.3" cy="328.0" r="0.9"/><circle cx="50.1" cy="340.2" r="0.9"/><circle cx="68.3" cy="322.6" r="0.9"/><circle cx="46.8" cy="344.9" r="0.9"/><circle cx="46.7" cy="343.9" r="0.9"/><circle cx="46.0" cy="342.8" r="0.9"/><circle cx="46.1" cy="345.5" r="0.9"/><circle cx="51.7" cy="339.6" r="0.9"/><circle cx="48.0" cy="342.8" r="0.9"/><circle cx="57.5" cy="334.9" r="0.9"/><circle cx="60.2" cy="329.2" r="0.9"/><circle cx="45.2" cy="344.9" r="0.9"/><circle cx="56.4" cy="332.0" r="0.9"/><circle cx="45.7" cy="345.6" r="0.9"/><circle cx="59.9" cy="328.9" r="0.9"/><circle cx="65.4" cy="328.0" r="0.9"/><circle cx="52.6" cy="340.5" r="0.9"/><circle cx="51.0" cy="339.6" r="0.9"/><circle cx="64.4" cy="325.9" r="0.9"/><circle cx="62.3" cy="329.1" r="0.9"/><circle cx="49.4" cy="341.6" r="0.9"/><circle cx="53.9" cy="337.6" r="0.9"/><circle cx="44.2" cy="345.1" r="0.9"/><circle cx="51.6" cy="338.7" r="0.9"/><circle cx="45.7" cy="344.3" r="0.9"/><circle cx="62.4" cy="324.8" r="0.9"/><circle cx="48.3" cy="341.8" r="0.9"/><circle cx="57.3" cy="331.6" r="0.9"/><circle cx="46.2" cy="346.0" r="0.9"/><circle cx="50.1" cy="338.0" r="0.9"/><circle cx="50.8" cy="338.0" r="0.9"/><circle cx="44.8" cy="345.4" r="0.9"/><circle cx="77.7" cy="313.0" r="0.9"/><circle cx="46.1" cy="345.0" r="0.9"/><circle cx="47.5" cy="343.0" r="0.9"/><circle cx="45.6" cy="344.6" r="0.9"/><circle cx="56.3" cy="334.2" r="0.9"/><circle cx="53.6" cy="337.0" r="0.9"/><circle cx="51.9" cy="336.4" r="0.9"/><circle cx="45.6" cy="344.5" r="0.9"/><circle cx="64.2" cy="326.1" r="0.9"/></g>
<path d="M45.0,342.2l1.1,1.9l1.1,-1.9 M47.8,341.2l1.1,1.9l1.1,-1.9 M46.1,341.6l1.1,1.9l1.1,-1.9 M44.8,341.6l1.1,1.9l1.1,-1.9 M45.3,343.4l1.1,1.9l1.1,-1.9 M48.2,337.2l1.1,1.9l1.1,-1.9 M53.9,333.7l1.1,1.9l1.1,-1.9 M64.0,325.3l1.1,1.9l1.1,-1.9 M49.3,337.5l1.1,1.9l1.1,-1.9 M65.4,325.2l1.1,1.9l1.1,-1.9 M66.9,321.6l1.1,1.9l1.1,-1.9 M75.9,313.4l1.1,1.9l1.1,-1.9 M50.4,337.3l1.1,1.9l1.1,-1.9 M52.7,335.9l1.1,1.9l1.1,-1.9 M53.0,336.2l1.1,1.9l1.1,-1.9 M75.7,313.1l1.1,1.9l1.1,-1.9 M54.6,332.6l1.1,1.9l1.1,-1.9 M69.7,318.3l1.1,1.9l1.1,-1.9 M47.8,340.6l1.1,1.9l1.1,-1.9 M53.0,335.8l1.1,1.9l1.1,-1.9 M46.8,340.3l1.1,1.9l1.1,-1.9 M75.5,312.6l1.1,1.9l1.1,-1.9" fill="none" stroke="#b04478" stroke-width="0.65"/>
<circle cx="60.70" cy="320.00" r="1.50" fill="#111" stroke="none" stroke-width="0.5"/>
<path d="M67.7,312.3l1.9,3.3h-3.8z" fill="#fff" stroke="#2a2a2a" stroke-width="0.85"/>
<path d="M69.2,311.8l1.9,3.3h-3.8z" fill="#fff" stroke="#2a2a2a" stroke-width="0.85"/>
<path d="M62.9,325.4h3.6l-1.8,3.1z" fill="#b83a72" stroke="#2a2a2a" stroke-width="0.7"/>
<path d="M54.7,334.8l1.9,3.3h-3.8z" fill="#fff" stroke="#2a2a2a" stroke-width="0.85"/>
<rect x="41.40" y="293.50" width="54.80" height="54.80" fill="none" stroke="#222" stroke-width="1.35"/>
<text x="43.7" y="303.1" font-size="8.7" text-anchor="start" fill="#2b2b2b">M+2+6+</text>
<text x="94.9" y="345.3" font-size="8.7" text-anchor="end" fill="#8c8c8c">0.99</text>
<line x1="39.80" y1="345.50" x2="41.40" y2="345.50" stroke="#222" stroke-width="0.8"/>
<line x1="40.40" y1="329.50" x2="41.40" y2="329.50" stroke="#222" stroke-width="0.8"/>
<line x1="40.40" y1="313.50" x2="41.40" y2="313.50" stroke="#222" stroke-width="0.8"/>
<line x1="39.80" y1="297.50" x2="41.40" y2="297.50" stroke="#222" stroke-width="0.8"/>
<text x="38.4" y="300.4" font-size="8.7" text-anchor="end" fill="#2b2b2b">75</text>
<text x="38.4" y="347.7" font-size="8.7" text-anchor="end" fill="#2b2b2b">0</text>
<line x1="105.90" y1="345.70" x2="156.40" y2="294.50" stroke="#3a3a3a" stroke-width="1.05" stroke-dasharray="0.9,2.1"/>
<g fill="#b83a72"><circle cx="119.0" cy="333.8" r="0.9"/><circle cx="106.4" cy="343.1" r="0.9"/><circle cx="113.6" cy="336.1" r="0.9"/><circle cx="109.0" cy="341.3" r="0.9"/><circle cx="108.0" cy="343.9" r="0.9"/><circle cx="107.8" cy="344.4" r="0.9"/><circle cx="112.5" cy="339.8" r="0.9"/><circle cx="110.0" cy="341.6" r="0.9"/><circle cx="115.7" cy="336.5" r="0.9"/><circle cx="126.9" cy="322.8" r="0.9"/><circle cx="117.9" cy="332.5" r="0.9"/><circle cx="108.4" cy="342.9" r="0.9"/><circle cx="114.7" cy="335.4" r="0.9"/><circle cx="116.7" cy="333.7" r="0.9"/><circle cx="109.3" cy="342.5" r="0.9"/><circle cx="108.4" cy="342.2" r="0.9"/><circle cx="116.4" cy="335.1" r="0.9"/><circle cx="105.5" cy="345.0" r="0.9"/><circle cx="110.1" cy="343.3" r="0.9"/><circle cx="115.1" cy="335.4" r="0.9"/><circle cx="148.0" cy="303.8" r="0.9"/><circle cx="110.2" cy="341.5" r="0.9"/><circle cx="106.4" cy="344.6" r="0.9"/><circle cx="130.2" cy="320.8" r="0.9"/><circle cx="111.9" cy="339.9" r="0.9"/><circle cx="112.8" cy="338.7" r="0.9"/><circle cx="108.7" cy="342.4" r="0.9"/><circle cx="144.3" cy="307.2" r="0.9"/><circle cx="110.5" cy="340.4" r="0.9"/><circle cx="110.7" cy="340.1" r="0.9"/><circle cx="127.5" cy="321.7" r="0.9"/><circle cx="125.1" cy="323.5" r="0.9"/><circle cx="122.1" cy="329.2" r="0.9"/><circle cx="121.5" cy="327.1" r="0.9"/><circle cx="120.9" cy="331.1" r="0.9"/><circle cx="137.0" cy="317.7" r="0.9"/><circle cx="106.7" cy="346.4" r="0.9"/><circle cx="122.5" cy="327.4" r="0.9"/><circle cx="144.6" cy="305.4" r="0.9"/><circle cx="115.0" cy="334.4" r="0.9"/><circle cx="131.5" cy="321.8" r="0.9"/><circle cx="116.5" cy="333.9" r="0.9"/><circle cx="113.7" cy="338.8" r="0.9"/><circle cx="121.1" cy="330.1" r="0.9"/><circle cx="116.3" cy="336.6" r="0.9"/><circle cx="111.3" cy="339.4" r="0.9"/><circle cx="130.2" cy="324.5" r="0.9"/><circle cx="113.8" cy="337.0" r="0.9"/><circle cx="110.4" cy="341.5" r="0.9"/><circle cx="107.2" cy="343.2" r="0.9"/><circle cx="106.7" cy="344.3" r="0.9"/><circle cx="135.3" cy="314.4" r="0.9"/><circle cx="129.4" cy="325.5" r="0.9"/><circle cx="144.5" cy="307.8" r="0.9"/><circle cx="136.0" cy="317.8" r="0.9"/><circle cx="106.6" cy="346.2" r="0.9"/><circle cx="114.4" cy="337.7" r="0.9"/><circle cx="136.5" cy="315.6" r="0.9"/><circle cx="146.2" cy="302.0" r="0.9"/><circle cx="113.6" cy="335.9" r="0.9"/><circle cx="111.7" cy="339.7" r="0.9"/><circle cx="110.7" cy="339.9" r="0.9"/><circle cx="140.7" cy="309.6" r="0.9"/><circle cx="119.1" cy="331.8" r="0.9"/><circle cx="111.5" cy="340.0" r="0.9"/><circle cx="111.3" cy="338.8" r="0.9"/><circle cx="130.8" cy="319.8" r="0.9"/><circle cx="144.5" cy="304.2" r="0.9"/><circle cx="117.7" cy="334.0" r="0.9"/><circle cx="147.0" cy="302.8" r="0.9"/><circle cx="127.1" cy="326.3" r="0.9"/><circle cx="107.5" cy="342.8" r="0.9"/><circle cx="129.2" cy="327.1" r="0.9"/><circle cx="115.6" cy="338.2" r="0.9"/><circle cx="121.0" cy="332.7" r="0.9"/></g>
<path d="M134.0,317.2l1.1,1.9l1.1,-1.9 M113.9,336.6l1.1,1.9l1.1,-1.9 M115.7,333.3l1.1,1.9l1.1,-1.9 M107.3,340.8l1.1,1.9l1.1,-1.9 M112.9,337.8l1.1,1.9l1.1,-1.9 M104.3,344.9l1.1,1.9l1.1,-1.9 M110.6,338.9l1.1,1.9l1.1,-1.9 M111.2,338.1l1.1,1.9l1.1,-1.9 M122.8,328.0l1.1,1.9l1.1,-1.9 M117.6,333.1l1.1,1.9l1.1,-1.9 M118.0,332.6l1.1,1.9l1.1,-1.9 M113.6,336.7l1.1,1.9l1.1,-1.9 M127.9,322.2l1.1,1.9l1.1,-1.9 M106.3,341.6l1.1,1.9l1.1,-1.9 M120.1,329.3l1.1,1.9l1.1,-1.9 M105.1,343.9l1.1,1.9l1.1,-1.9 M124.6,325.1l1.1,1.9l1.1,-1.9 M111.2,340.9l1.1,1.9l1.1,-1.9 M118.3,331.5l1.1,1.9l1.1,-1.9 M114.2,337.6l1.1,1.9l1.1,-1.9 M119.6,330.6l1.1,1.9l1.1,-1.9 M120.3,329.6l1.1,1.9l1.1,-1.9" fill="none" stroke="#b04478" stroke-width="0.65"/>
<circle cx="126.60" cy="331.00" r="1.50" fill="#111" stroke="none" stroke-width="0.5"/>
<path d="M114.9,338.8l1.9,3.3h-3.8z" fill="#fff" stroke="#2a2a2a" stroke-width="0.85"/>
<path d="M116.9,336.8l1.9,3.3h-3.8z" fill="#fff" stroke="#2a2a2a" stroke-width="0.85"/>
<path d="M118.4,338.3l1.9,3.3h-3.8z" fill="#fff" stroke="#2a2a2a" stroke-width="0.85"/>
<path d="M120.1,329.4h3.6l-1.8,3.1z" fill="#b83a72" stroke="#2a2a2a" stroke-width="0.7"/>
<rect x="102.60" y="293.50" width="54.80" height="54.80" fill="none" stroke="#222" stroke-width="1.35"/>
<text x="104.9" y="303.1" font-size="8.7" text-anchor="start" fill="#2b2b2b">M–2+6+</text>
<text x="156.1" y="345.3" font-size="8.7" text-anchor="end" fill="#8c8c8c">0.98</text>
<line x1="44.70" y1="407.10" x2="95.20" y2="355.90" stroke="#3a3a3a" stroke-width="1.05" stroke-dasharray="0.9,2.1"/>
<g fill="#b83a72"><circle cx="66.0" cy="386.8" r="0.9"/><circle cx="62.0" cy="388.6" r="0.9"/><circle cx="57.6" cy="393.6" r="0.9"/><circle cx="71.1" cy="383.3" r="0.9"/><circle cx="50.5" cy="402.2" r="0.9"/><circle cx="48.4" cy="403.1" r="0.9"/><circle cx="54.7" cy="397.3" r="0.9"/><circle cx="61.6" cy="391.6" r="0.9"/><circle cx="50.0" cy="402.1" r="0.9"/><circle cx="45.8" cy="405.2" r="0.9"/><circle cx="48.7" cy="404.2" r="0.9"/><circle cx="48.7" cy="405.8" r="0.9"/><circle cx="51.7" cy="401.2" r="0.9"/><circle cx="49.0" cy="403.8" r="0.9"/><circle cx="49.0" cy="403.3" r="0.9"/><circle cx="58.5" cy="393.6" r="0.9"/><circle cx="48.1" cy="403.7" r="0.9"/><circle cx="47.7" cy="404.9" r="0.9"/><circle cx="47.6" cy="405.8" r="0.9"/><circle cx="48.1" cy="404.0" r="0.9"/><circle cx="46.0" cy="405.7" r="0.9"/><circle cx="46.9" cy="404.4" r="0.9"/><circle cx="59.3" cy="393.6" r="0.9"/><circle cx="59.4" cy="393.6" r="0.9"/><circle cx="57.8" cy="394.7" r="0.9"/><circle cx="55.2" cy="397.7" r="0.9"/><circle cx="48.8" cy="403.8" r="0.9"/><circle cx="68.0" cy="383.4" r="0.9"/><circle cx="50.3" cy="401.7" r="0.9"/><circle cx="46.4" cy="406.6" r="0.9"/><circle cx="54.2" cy="397.4" r="0.9"/><circle cx="53.0" cy="401.6" r="0.9"/><circle cx="48.3" cy="403.5" r="0.9"/><circle cx="47.3" cy="406.0" r="0.9"/><circle cx="61.5" cy="391.8" r="0.9"/><circle cx="51.3" cy="401.5" r="0.9"/><circle cx="47.2" cy="404.7" r="0.9"/><circle cx="52.4" cy="398.1" r="0.9"/><circle cx="51.0" cy="400.3" r="0.9"/><circle cx="45.9" cy="406.9" r="0.9"/><circle cx="46.5" cy="405.9" r="0.9"/><circle cx="52.7" cy="398.1" r="0.9"/><circle cx="45.2" cy="405.8" r="0.9"/><circle cx="49.9" cy="401.5" r="0.9"/><circle cx="47.9" cy="404.8" r="0.9"/><circle cx="46.9" cy="405.3" r="0.9"/><circle cx="45.7" cy="406.0" r="0.9"/><circle cx="48.3" cy="402.6" r="0.9"/><circle cx="63.7" cy="388.7" r="0.9"/><circle cx="58.4" cy="390.0" r="0.9"/><circle cx="45.8" cy="406.0" r="0.9"/><circle cx="53.7" cy="398.4" r="0.9"/><circle cx="52.8" cy="398.2" r="0.9"/><circle cx="53.6" cy="399.3" r="0.9"/><circle cx="54.1" cy="397.7" r="0.9"/><circle cx="49.2" cy="404.8" r="0.9"/><circle cx="52.6" cy="399.5" r="0.9"/><circle cx="64.1" cy="388.5" r="0.9"/><circle cx="55.0" cy="396.7" r="0.9"/><circle cx="44.9" cy="406.6" r="0.9"/><circle cx="46.2" cy="405.9" r="0.9"/><circle cx="48.9" cy="403.8" r="0.9"/><circle cx="44.7" cy="406.5" r="0.9"/><circle cx="46.9" cy="406.2" r="0.9"/><circle cx="57.8" cy="391.7" r="0.9"/><circle cx="46.6" cy="404.4" r="0.9"/><circle cx="48.9" cy="402.4" r="0.9"/><circle cx="44.3" cy="406.7" r="0.9"/><circle cx="58.8" cy="393.2" r="0.9"/><circle cx="44.6" cy="406.4" r="0.9"/><circle cx="59.5" cy="391.9" r="0.9"/><circle cx="46.8" cy="404.8" r="0.9"/><circle cx="45.7" cy="406.3" r="0.9"/><circle cx="63.3" cy="387.3" r="0.9"/><circle cx="56.4" cy="397.2" r="0.9"/></g>
<path d="M49.4,401.0l1.1,1.9l1.1,-1.9 M45.5,404.4l1.1,1.9l1.1,-1.9 M50.4,401.6l1.1,1.9l1.1,-1.9 M57.0,392.8l1.1,1.9l1.1,-1.9 M48.9,401.1l1.1,1.9l1.1,-1.9 M49.8,398.6l1.1,1.9l1.1,-1.9 M44.9,404.8l1.1,1.9l1.1,-1.9 M56.0,393.8l1.1,1.9l1.1,-1.9 M51.2,399.1l1.1,1.9l1.1,-1.9 M51.5,398.0l1.1,1.9l1.1,-1.9 M48.5,401.1l1.1,1.9l1.1,-1.9 M47.8,403.2l1.1,1.9l1.1,-1.9 M56.1,394.7l1.1,1.9l1.1,-1.9 M51.7,396.9l1.1,1.9l1.1,-1.9 M48.7,401.2l1.1,1.9l1.1,-1.9 M46.8,403.9l1.1,1.9l1.1,-1.9 M60.9,387.3l1.1,1.9l1.1,-1.9 M45.1,403.7l1.1,1.9l1.1,-1.9 M49.1,399.9l1.1,1.9l1.1,-1.9 M43.4,404.8l1.1,1.9l1.1,-1.9 M46.7,404.4l1.1,1.9l1.1,-1.9 M46.1,403.7l1.1,1.9l1.1,-1.9" fill="none" stroke="#b04478" stroke-width="0.65"/>
<circle cx="52.20" cy="405.30" r="1.50" fill="#111" stroke="none" stroke-width="0.5"/>
<path d="M60.7,397.2l1.9,3.3h-3.8z" fill="#fff" stroke="#2a2a2a" stroke-width="0.85"/>
<path d="M62.7,396.2l1.9,3.3h-3.8z" fill="#fff" stroke="#2a2a2a" stroke-width="0.85"/>
<path d="M54.9,396.8h3.6l-1.8,3.1z" fill="#b83a72" stroke="#2a2a2a" stroke-width="0.7"/>
<rect x="41.40" y="354.90" width="54.80" height="54.80" fill="none" stroke="#222" stroke-width="1.35"/>
<text x="43.7" y="364.5" font-size="8.7" text-anchor="start" fill="#2b2b2b">M+2+6–</text>
<text x="94.9" y="406.7" font-size="8.7" text-anchor="end" fill="#8c8c8c">0.96</text>
<line x1="39.80" y1="407.50" x2="41.40" y2="407.50" stroke="#222" stroke-width="0.8"/>
<line x1="40.40" y1="390.50" x2="41.40" y2="390.50" stroke="#222" stroke-width="0.8"/>
<line x1="40.40" y1="374.50" x2="41.40" y2="374.50" stroke="#222" stroke-width="0.8"/>
<line x1="39.80" y1="358.50" x2="41.40" y2="358.50" stroke="#222" stroke-width="0.8"/>
<text x="38.4" y="361.8" font-size="8.7" text-anchor="end" fill="#2b2b2b">75</text>
<text x="38.4" y="409.1" font-size="8.7" text-anchor="end" fill="#2b2b2b">0</text>
<line x1="105.90" y1="407.10" x2="156.40" y2="355.90" stroke="#3a3a3a" stroke-width="1.05" stroke-dasharray="0.9,2.1"/>
<g fill="#b83a72"><circle cx="106.7" cy="405.2" r="0.9"/><circle cx="109.8" cy="402.1" r="0.9"/><circle cx="108.1" cy="405.1" r="0.9"/><circle cx="108.3" cy="407.8" r="0.9"/><circle cx="121.9" cy="391.4" r="0.9"/><circle cx="106.6" cy="405.8" r="0.9"/><circle cx="113.5" cy="395.8" r="0.9"/><circle cx="106.7" cy="405.2" r="0.9"/><circle cx="108.3" cy="404.7" r="0.9"/><circle cx="116.3" cy="399.7" r="0.9"/><circle cx="117.8" cy="395.4" r="0.9"/><circle cx="118.1" cy="396.8" r="0.9"/><circle cx="108.9" cy="403.5" r="0.9"/><circle cx="109.2" cy="404.0" r="0.9"/><circle cx="123.0" cy="390.3" r="0.9"/><circle cx="126.6" cy="386.1" r="0.9"/><circle cx="117.9" cy="396.0" r="0.9"/><circle cx="127.7" cy="386.3" r="0.9"/><circle cx="123.2" cy="389.4" r="0.9"/><circle cx="126.1" cy="386.8" r="0.9"/><circle cx="107.7" cy="404.3" r="0.9"/><circle cx="125.4" cy="386.8" r="0.9"/><circle cx="115.6" cy="398.6" r="0.9"/><circle cx="111.4" cy="402.1" r="0.9"/><circle cx="106.1" cy="406.3" r="0.9"/><circle cx="114.6" cy="396.7" r="0.9"/><circle cx="118.8" cy="392.1" r="0.9"/><circle cx="133.9" cy="381.4" r="0.9"/><circle cx="113.5" cy="398.9" r="0.9"/><circle cx="107.6" cy="404.9" r="0.9"/><circle cx="107.5" cy="406.8" r="0.9"/><circle cx="119.6" cy="394.3" r="0.9"/><circle cx="147.0" cy="368.4" r="0.9"/><circle cx="107.5" cy="406.6" r="0.9"/><circle cx="108.5" cy="404.8" r="0.9"/><circle cx="122.1" cy="394.0" r="0.9"/><circle cx="128.0" cy="385.1" r="0.9"/><circle cx="122.9" cy="388.8" r="0.9"/><circle cx="118.5" cy="395.0" r="0.9"/><circle cx="113.6" cy="398.3" r="0.9"/><circle cx="112.8" cy="400.8" r="0.9"/><circle cx="119.2" cy="395.3" r="0.9"/><circle cx="106.9" cy="404.0" r="0.9"/><circle cx="109.2" cy="402.4" r="0.9"/><circle cx="111.0" cy="402.5" r="0.9"/><circle cx="108.8" cy="405.0" r="0.9"/><circle cx="113.2" cy="400.4" r="0.9"/><circle cx="148.0" cy="369.4" r="0.9"/><circle cx="144.4" cy="365.8" r="0.9"/><circle cx="141.4" cy="368.2" r="0.9"/><circle cx="106.0" cy="405.8" r="0.9"/><circle cx="118.3" cy="393.7" r="0.9"/><circle cx="115.2" cy="397.1" r="0.9"/><circle cx="139.0" cy="370.5" r="0.9"/><circle cx="110.1" cy="403.1" r="0.9"/><circle cx="110.8" cy="402.4" r="0.9"/><circle cx="108.2" cy="404.6" r="0.9"/><circle cx="118.5" cy="393.9" r="0.9"/><circle cx="118.3" cy="394.9" r="0.9"/><circle cx="110.7" cy="401.3" r="0.9"/><circle cx="114.2" cy="398.2" r="0.9"/><circle cx="115.1" cy="397.3" r="0.9"/><circle cx="108.3" cy="405.0" r="0.9"/><circle cx="130.6" cy="381.5" r="0.9"/><circle cx="128.4" cy="384.4" r="0.9"/><circle cx="109.8" cy="404.3" r="0.9"/><circle cx="109.6" cy="404.2" r="0.9"/><circle cx="113.1" cy="399.0" r="0.9"/><circle cx="115.4" cy="397.2" r="0.9"/><circle cx="106.6" cy="405.0" r="0.9"/><circle cx="106.8" cy="406.1" r="0.9"/><circle cx="112.5" cy="401.7" r="0.9"/><circle cx="129.1" cy="384.9" r="0.9"/><circle cx="114.8" cy="397.7" r="0.9"/><circle cx="106.4" cy="404.9" r="0.9"/></g>
<path d="M142.7,367.8l1.1,1.9l1.1,-1.9 M131.4,379.6l1.1,1.9l1.1,-1.9 M141.5,367.7l1.1,1.9l1.1,-1.9 M107.1,403.7l1.1,1.9l1.1,-1.9 M108.8,402.2l1.1,1.9l1.1,-1.9 M118.7,393.1l1.1,1.9l1.1,-1.9 M122.0,388.3l1.1,1.9l1.1,-1.9 M120.3,390.7l1.1,1.9l1.1,-1.9 M143.1,367.9l1.1,1.9l1.1,-1.9 M124.9,386.5l1.1,1.9l1.1,-1.9 M122.3,388.5l1.1,1.9l1.1,-1.9 M111.7,397.2l1.1,1.9l1.1,-1.9 M125.3,387.0l1.1,1.9l1.1,-1.9 M105.0,404.2l1.1,1.9l1.1,-1.9 M107.7,403.8l1.1,1.9l1.1,-1.9 M109.6,402.5l1.1,1.9l1.1,-1.9 M132.1,378.3l1.1,1.9l1.1,-1.9 M106.2,406.8l1.1,1.9l1.1,-1.9 M107.3,402.9l1.1,1.9l1.1,-1.9 M122.1,388.8l1.1,1.9l1.1,-1.9 M135.3,374.3l1.1,1.9l1.1,-1.9 M130.0,381.1l1.1,1.9l1.1,-1.9" fill="none" stroke="#b04478" stroke-width="0.65"/>
<circle cx="115.90" cy="395.10" r="1.50" fill="#111" stroke="none" stroke-width="0.5"/>
<circle cx="117.90" cy="392.10" r="1.50" fill="#111" stroke="none" stroke-width="0.5"/>
<path d="M120.9,393.2l1.9,3.3h-3.8z" fill="#fff" stroke="#2a2a2a" stroke-width="0.85"/>
<path d="M122.9,390.2l1.9,3.3h-3.8z" fill="#fff" stroke="#2a2a2a" stroke-width="0.85"/>
<path d="M114.9,395.2l1.9,3.3h-3.8z" fill="#fff" stroke="#2a2a2a" stroke-width="0.85"/>
<rect x="102.60" y="354.90" width="54.80" height="54.80" fill="none" stroke="#222" stroke-width="1.35"/>
<text x="104.9" y="364.5" font-size="8.7" text-anchor="start" fill="#2b2b2b">M–2+6–</text>
<text x="156.1" y="406.7" font-size="8.7" text-anchor="end" fill="#8c8c8c">0.98</text>
<line x1="44.70" y1="468.10" x2="95.20" y2="416.90" stroke="#3a3a3a" stroke-width="1.05" stroke-dasharray="0.9,2.1"/>
<g fill="#b83a72"><circle cx="49.1" cy="464.5" r="0.9"/><circle cx="65.4" cy="449.2" r="0.9"/><circle cx="60.7" cy="453.1" r="0.9"/><circle cx="61.2" cy="451.8" r="0.9"/><circle cx="55.0" cy="456.5" r="0.9"/><circle cx="46.7" cy="466.8" r="0.9"/><circle cx="61.2" cy="448.8" r="0.9"/><circle cx="54.6" cy="459.9" r="0.9"/><circle cx="45.3" cy="467.2" r="0.9"/><circle cx="66.8" cy="447.1" r="0.9"/><circle cx="53.6" cy="460.0" r="0.9"/><circle cx="49.1" cy="463.9" r="0.9"/><circle cx="50.2" cy="461.5" r="0.9"/><circle cx="48.6" cy="463.6" r="0.9"/><circle cx="44.4" cy="467.7" r="0.9"/><circle cx="44.7" cy="467.7" r="0.9"/><circle cx="50.8" cy="462.4" r="0.9"/><circle cx="46.2" cy="466.6" r="0.9"/><circle cx="55.3" cy="457.3" r="0.9"/><circle cx="51.9" cy="461.9" r="0.9"/><circle cx="47.0" cy="464.6" r="0.9"/><circle cx="74.3" cy="437.3" r="0.9"/><circle cx="79.8" cy="436.0" r="0.9"/><circle cx="59.1" cy="454.2" r="0.9"/><circle cx="64.7" cy="448.5" r="0.9"/><circle cx="53.4" cy="457.5" r="0.9"/><circle cx="48.8" cy="463.6" r="0.9"/><circle cx="66.1" cy="449.9" r="0.9"/><circle cx="71.1" cy="440.9" r="0.9"/><circle cx="57.9" cy="453.7" r="0.9"/><circle cx="56.5" cy="454.1" r="0.9"/><circle cx="48.8" cy="463.9" r="0.9"/><circle cx="52.2" cy="460.2" r="0.9"/><circle cx="48.8" cy="464.3" r="0.9"/><circle cx="49.1" cy="465.0" r="0.9"/><circle cx="49.0" cy="463.7" r="0.9"/><circle cx="47.4" cy="465.5" r="0.9"/><circle cx="46.6" cy="467.2" r="0.9"/><circle cx="45.1" cy="468.4" r="0.9"/><circle cx="49.9" cy="462.0" r="0.9"/><circle cx="52.6" cy="459.9" r="0.9"/><circle cx="45.6" cy="467.7" r="0.9"/><circle cx="47.8" cy="464.3" r="0.9"/><circle cx="53.4" cy="461.4" r="0.9"/><circle cx="70.0" cy="440.2" r="0.9"/><circle cx="54.4" cy="461.0" r="0.9"/><circle cx="45.8" cy="467.6" r="0.9"/><circle cx="79.7" cy="435.9" r="0.9"/><circle cx="49.0" cy="464.0" r="0.9"/><circle cx="63.2" cy="447.7" r="0.9"/><circle cx="44.3" cy="466.4" r="0.9"/><circle cx="47.9" cy="465.1" r="0.9"/><circle cx="47.9" cy="465.6" r="0.9"/><circle cx="47.7" cy="465.2" r="0.9"/><circle cx="56.5" cy="456.5" r="0.9"/><circle cx="47.4" cy="466.5" r="0.9"/><circle cx="54.2" cy="459.9" r="0.9"/><circle cx="46.2" cy="465.4" r="0.9"/><circle cx="58.4" cy="456.4" r="0.9"/><circle cx="45.3" cy="467.1" r="0.9"/><circle cx="61.2" cy="452.7" r="0.9"/><circle cx="45.8" cy="466.4" r="0.9"/><circle cx="45.6" cy="465.0" r="0.9"/><circle cx="54.2" cy="458.0" r="0.9"/><circle cx="69.5" cy="443.7" r="0.9"/><circle cx="58.6" cy="455.5" r="0.9"/><circle cx="53.9" cy="457.2" r="0.9"/><circle cx="49.1" cy="464.6" r="0.9"/><circle cx="45.1" cy="467.4" r="0.9"/><circle cx="54.3" cy="458.8" r="0.9"/><circle cx="47.8" cy="463.4" r="0.9"/><circle cx="47.6" cy="465.3" r="0.9"/><circle cx="52.1" cy="463.5" r="0.9"/><circle cx="52.8" cy="460.3" r="0.9"/><circle cx="79.8" cy="436.0" r="0.9"/></g>
<path d="M60.5,450.5l1.1,1.9l1.1,-1.9 M46.1,465.9l1.1,1.9l1.1,-1.9 M45.9,466.3l1.1,1.9l1.1,-1.9 M52.7,456.4l1.1,1.9l1.1,-1.9 M56.8,452.9l1.1,1.9l1.1,-1.9 M60.5,449.8l1.1,1.9l1.1,-1.9 M63.3,448.9l1.1,1.9l1.1,-1.9 M61.9,449.1l1.1,1.9l1.1,-1.9 M47.6,461.1l1.1,1.9l1.1,-1.9 M45.1,466.3l1.1,1.9l1.1,-1.9 M57.3,453.7l1.1,1.9l1.1,-1.9 M74.8,435.4l1.1,1.9l1.1,-1.9 M46.1,466.4l1.1,1.9l1.1,-1.9 M44.5,465.4l1.1,1.9l1.1,-1.9 M46.2,465.3l1.1,1.9l1.1,-1.9 M45.4,465.7l1.1,1.9l1.1,-1.9 M76.8,435.3l1.1,1.9l1.1,-1.9 M63.0,448.0l1.1,1.9l1.1,-1.9 M54.7,457.9l1.1,1.9l1.1,-1.9 M63.7,445.9l1.1,1.9l1.1,-1.9 M73.7,438.3l1.1,1.9l1.1,-1.9 M45.3,465.8l1.1,1.9l1.1,-1.9" fill="none" stroke="#b04478" stroke-width="0.65"/>
<circle cx="47.70" cy="466.10" r="1.50" fill="#111" stroke="none" stroke-width="0.5"/>
<circle cx="49.20" cy="464.60" r="1.50" fill="#111" stroke="none" stroke-width="0.5"/>
<circle cx="46.70" cy="464.60" r="1.50" fill="#111" stroke="none" stroke-width="0.5"/>
<circle cx="50.70" cy="463.10" r="1.50" fill="#111" stroke="none" stroke-width="0.5"/>
<circle cx="46.20" cy="467.10" r="1.50" fill="#111" stroke="none" stroke-width="0.5"/>
<rect x="41.40" y="415.90" width="54.80" height="54.80" fill="none" stroke="#222" stroke-width="1.35"/>
<text x="43.7" y="425.5" font-size="8.7" text-anchor="start" fill="#2b2b2b">M+2–6+</text>
<text x="94.9" y="467.7" font-size="8.7" text-anchor="end" fill="#8c8c8c">0.96</text>
<line x1="39.80" y1="468.50" x2="41.40" y2="468.50" stroke="#222" stroke-width="0.8"/>
<line x1="40.40" y1="451.50" x2="41.40" y2="451.50" stroke="#222" stroke-width="0.8"/>
<line x1="40.40" y1="435.50" x2="41.40" y2="435.50" stroke="#222" stroke-width="0.8"/>
<line x1="39.80" y1="419.50" x2="41.40" y2="419.50" stroke="#222" stroke-width="0.8"/>
<text x="38.4" y="422.8" font-size="8.7" text-anchor="end" fill="#2b2b2b">75</text>
<text x="38.4" y="470.1" font-size="8.7" text-anchor="end" fill="#2b2b2b">0</text>
<line x1="105.90" y1="468.10" x2="156.40" y2="416.90" stroke="#3a3a3a" stroke-width="1.05" stroke-dasharray="0.9,2.1"/>
<g fill="#b83a72"><circle cx="127.9" cy="444.6" r="0.9"/><circle cx="106.1" cy="466.9" r="0.9"/><circle cx="134.1" cy="439.0" r="0.9"/><circle cx="138.4" cy="434.5" r="0.9"/><circle cx="108.9" cy="464.5" r="0.9"/><circle cx="109.0" cy="464.3" r="0.9"/><circle cx="108.6" cy="465.7" r="0.9"/><circle cx="121.7" cy="451.4" r="0.9"/><circle cx="144.9" cy="427.3" r="0.9"/><circle cx="108.4" cy="465.0" r="0.9"/><circle cx="128.3" cy="445.2" r="0.9"/><circle cx="128.9" cy="444.7" r="0.9"/><circle cx="127.1" cy="449.9" r="0.9"/><circle cx="109.4" cy="464.0" r="0.9"/><circle cx="132.2" cy="443.9" r="0.9"/><circle cx="107.6" cy="465.8" r="0.9"/><circle cx="112.0" cy="460.4" r="0.9"/><circle cx="116.1" cy="458.6" r="0.9"/><circle cx="130.0" cy="443.1" r="0.9"/><circle cx="111.2" cy="463.2" r="0.9"/><circle cx="107.1" cy="464.8" r="0.9"/><circle cx="129.5" cy="446.2" r="0.9"/><circle cx="106.2" cy="467.8" r="0.9"/><circle cx="107.3" cy="466.8" r="0.9"/><circle cx="133.5" cy="440.4" r="0.9"/><circle cx="107.7" cy="466.2" r="0.9"/><circle cx="107.8" cy="465.8" r="0.9"/><circle cx="119.6" cy="455.6" r="0.9"/><circle cx="135.0" cy="440.1" r="0.9"/><circle cx="121.9" cy="455.4" r="0.9"/><circle cx="105.3" cy="466.8" r="0.9"/><circle cx="109.2" cy="465.3" r="0.9"/><circle cx="105.6" cy="466.9" r="0.9"/><circle cx="114.0" cy="460.2" r="0.9"/><circle cx="107.7" cy="467.4" r="0.9"/><circle cx="106.6" cy="468.3" r="0.9"/><circle cx="129.9" cy="444.0" r="0.9"/><circle cx="107.1" cy="466.4" r="0.9"/><circle cx="112.3" cy="461.7" r="0.9"/><circle cx="108.0" cy="465.7" r="0.9"/><circle cx="120.8" cy="452.4" r="0.9"/><circle cx="114.3" cy="460.6" r="0.9"/><circle cx="114.1" cy="460.7" r="0.9"/><circle cx="134.1" cy="439.0" r="0.9"/><circle cx="145.7" cy="429.8" r="0.9"/><circle cx="130.3" cy="443.5" r="0.9"/><circle cx="107.7" cy="465.5" r="0.9"/><circle cx="109.6" cy="464.7" r="0.9"/><circle cx="114.1" cy="460.1" r="0.9"/><circle cx="111.3" cy="461.6" r="0.9"/><circle cx="105.9" cy="467.8" r="0.9"/><circle cx="118.6" cy="454.3" r="0.9"/><circle cx="114.3" cy="458.3" r="0.9"/><circle cx="120.8" cy="456.3" r="0.9"/><circle cx="120.1" cy="453.5" r="0.9"/><circle cx="111.4" cy="462.0" r="0.9"/><circle cx="147.1" cy="429.5" r="0.9"/><circle cx="111.0" cy="462.1" r="0.9"/><circle cx="108.0" cy="466.7" r="0.9"/><circle cx="147.6" cy="430.0" r="0.9"/><circle cx="135.7" cy="438.4" r="0.9"/><circle cx="108.8" cy="464.3" r="0.9"/><circle cx="108.7" cy="464.6" r="0.9"/><circle cx="109.2" cy="466.4" r="0.9"/><circle cx="124.5" cy="451.7" r="0.9"/><circle cx="134.7" cy="442.4" r="0.9"/><circle cx="110.6" cy="463.9" r="0.9"/><circle cx="117.1" cy="455.6" r="0.9"/><circle cx="145.4" cy="427.8" r="0.9"/><circle cx="105.9" cy="468.1" r="0.9"/><circle cx="112.7" cy="458.7" r="0.9"/><circle cx="116.6" cy="458.4" r="0.9"/><circle cx="117.2" cy="456.8" r="0.9"/><circle cx="120.5" cy="451.7" r="0.9"/><circle cx="112.3" cy="463.1" r="0.9"/></g>
<path d="M115.2,455.1l1.1,1.9l1.1,-1.9 M110.0,460.6l1.1,1.9l1.1,-1.9 M108.2,463.0l1.1,1.9l1.1,-1.9 M139.9,431.0l1.1,1.9l1.1,-1.9 M115.5,456.1l1.1,1.9l1.1,-1.9 M108.0,464.4l1.1,1.9l1.1,-1.9 M114.6,455.7l1.1,1.9l1.1,-1.9 M109.6,464.4l1.1,1.9l1.1,-1.9 M113.2,456.7l1.1,1.9l1.1,-1.9 M139.1,432.9l1.1,1.9l1.1,-1.9 M112.8,458.6l1.1,1.9l1.1,-1.9 M107.1,465.7l1.1,1.9l1.1,-1.9 M105.6,466.7l1.1,1.9l1.1,-1.9 M115.7,456.1l1.1,1.9l1.1,-1.9 M113.7,459.5l1.1,1.9l1.1,-1.9 M112.4,458.3l1.1,1.9l1.1,-1.9 M127.1,446.6l1.1,1.9l1.1,-1.9 M111.2,460.2l1.1,1.9l1.1,-1.9 M111.4,460.8l1.1,1.9l1.1,-1.9 M105.4,467.9l1.1,1.9l1.1,-1.9 M106.3,467.4l1.1,1.9l1.1,-1.9 M109.4,462.9l1.1,1.9l1.1,-1.9" fill="none" stroke="#b04478" stroke-width="0.65"/>
<circle cx="108.90" cy="466.10" r="1.50" fill="#111" stroke="none" stroke-width="0.5"/>
<circle cx="110.40" cy="464.60" r="1.50" fill="#111" stroke="none" stroke-width="0.5"/>
<circle cx="107.90" cy="464.60" r="1.50" fill="#111" stroke="none" stroke-width="0.5"/>
<circle cx="111.90" cy="465.10" r="1.50" fill="#111" stroke="none" stroke-width="0.5"/>
<circle cx="107.40" cy="467.10" r="1.50" fill="#111" stroke="none" stroke-width="0.5"/>
<rect x="102.60" y="415.90" width="54.80" height="54.80" fill="none" stroke="#222" stroke-width="1.35"/>
<text x="104.9" y="425.5" font-size="8.7" text-anchor="start" fill="#2b2b2b">M–2–6+</text>
<text x="156.1" y="467.7" font-size="8.7" text-anchor="end" fill="#8c8c8c">0.97</text>
<line x1="44.70" y1="529.20" x2="95.20" y2="478.00" stroke="#3a3a3a" stroke-width="1.05" stroke-dasharray="0.9,2.1"/>
<g fill="#b83a72"><circle cx="61.9" cy="514.0" r="0.9"/><circle cx="63.0" cy="512.2" r="0.9"/><circle cx="45.9" cy="526.3" r="0.9"/><circle cx="53.9" cy="521.1" r="0.9"/><circle cx="49.5" cy="525.6" r="0.9"/><circle cx="49.0" cy="525.3" r="0.9"/><circle cx="55.7" cy="517.8" r="0.9"/><circle cx="54.8" cy="520.5" r="0.9"/><circle cx="59.2" cy="513.7" r="0.9"/><circle cx="53.0" cy="521.9" r="0.9"/><circle cx="68.9" cy="506.8" r="0.9"/><circle cx="57.7" cy="519.8" r="0.9"/><circle cx="48.6" cy="524.7" r="0.9"/><circle cx="45.0" cy="528.2" r="0.9"/><circle cx="56.7" cy="515.8" r="0.9"/><circle cx="51.4" cy="523.5" r="0.9"/><circle cx="65.6" cy="508.4" r="0.9"/><circle cx="52.6" cy="521.0" r="0.9"/><circle cx="49.2" cy="522.5" r="0.9"/><circle cx="49.8" cy="524.6" r="0.9"/><circle cx="51.0" cy="523.9" r="0.9"/><circle cx="50.4" cy="522.7" r="0.9"/><circle cx="51.6" cy="523.2" r="0.9"/><circle cx="55.8" cy="516.1" r="0.9"/><circle cx="50.2" cy="525.4" r="0.9"/><circle cx="52.2" cy="522.2" r="0.9"/><circle cx="57.9" cy="516.1" r="0.9"/><circle cx="46.7" cy="526.7" r="0.9"/><circle cx="45.5" cy="528.6" r="0.9"/><circle cx="45.3" cy="528.2" r="0.9"/><circle cx="57.1" cy="516.4" r="0.9"/><circle cx="54.9" cy="518.8" r="0.9"/><circle cx="55.6" cy="517.8" r="0.9"/><circle cx="55.3" cy="518.7" r="0.9"/><circle cx="47.8" cy="522.5" r="0.9"/><circle cx="58.5" cy="512.5" r="0.9"/><circle cx="63.7" cy="511.2" r="0.9"/><circle cx="51.7" cy="523.1" r="0.9"/><circle cx="45.1" cy="529.5" r="0.9"/><circle cx="47.4" cy="526.4" r="0.9"/><circle cx="48.0" cy="525.8" r="0.9"/><circle cx="53.3" cy="523.2" r="0.9"/><circle cx="51.0" cy="522.6" r="0.9"/><circle cx="48.1" cy="526.0" r="0.9"/><circle cx="63.4" cy="511.6" r="0.9"/><circle cx="46.4" cy="525.5" r="0.9"/><circle cx="47.4" cy="527.8" r="0.9"/><circle cx="49.1" cy="525.2" r="0.9"/><circle cx="49.5" cy="522.8" r="0.9"/><circle cx="48.9" cy="525.2" r="0.9"/><circle cx="59.8" cy="515.2" r="0.9"/><circle cx="53.4" cy="523.3" r="0.9"/><circle cx="44.9" cy="528.5" r="0.9"/><circle cx="50.1" cy="525.1" r="0.9"/><circle cx="52.0" cy="521.5" r="0.9"/><circle cx="59.6" cy="515.5" r="0.9"/><circle cx="47.6" cy="525.9" r="0.9"/><circle cx="51.6" cy="520.0" r="0.9"/><circle cx="50.8" cy="524.3" r="0.9"/><circle cx="63.3" cy="509.9" r="0.9"/><circle cx="44.6" cy="528.0" r="0.9"/><circle cx="45.4" cy="529.0" r="0.9"/><circle cx="63.6" cy="512.4" r="0.9"/><circle cx="46.8" cy="527.7" r="0.9"/><circle cx="66.1" cy="504.6" r="0.9"/><circle cx="50.5" cy="522.6" r="0.9"/><circle cx="54.5" cy="518.8" r="0.9"/><circle cx="46.4" cy="526.7" r="0.9"/><circle cx="62.2" cy="513.9" r="0.9"/><circle cx="47.7" cy="528.1" r="0.9"/><circle cx="46.4" cy="529.0" r="0.9"/><circle cx="72.9" cy="503.1" r="0.9"/><circle cx="49.3" cy="524.1" r="0.9"/><circle cx="65.4" cy="507.3" r="0.9"/><circle cx="55.3" cy="518.9" r="0.9"/></g>
<path d="M58.1,515.5l1.1,1.9l1.1,-1.9 M48.2,524.2l1.1,1.9l1.1,-1.9 M49.3,523.3l1.1,1.9l1.1,-1.9 M72.6,498.5l1.1,1.9l1.1,-1.9 M46.9,527.0l1.1,1.9l1.1,-1.9 M47.4,523.1l1.1,1.9l1.1,-1.9 M56.0,516.2l1.1,1.9l1.1,-1.9 M45.8,525.9l1.1,1.9l1.1,-1.9 M50.6,521.4l1.1,1.9l1.1,-1.9 M64.4,508.4l1.1,1.9l1.1,-1.9 M74.9,499.2l1.1,1.9l1.1,-1.9 M47.4,523.4l1.1,1.9l1.1,-1.9 M52.9,520.4l1.1,1.9l1.1,-1.9 M51.4,521.1l1.1,1.9l1.1,-1.9 M52.1,519.3l1.1,1.9l1.1,-1.9 M47.6,525.7l1.1,1.9l1.1,-1.9 M45.7,525.4l1.1,1.9l1.1,-1.9 M54.5,518.1l1.1,1.9l1.1,-1.9 M73.5,498.2l1.1,1.9l1.1,-1.9 M48.2,522.9l1.1,1.9l1.1,-1.9 M60.1,512.6l1.1,1.9l1.1,-1.9 M49.1,525.0l1.1,1.9l1.1,-1.9" fill="none" stroke="#b04478" stroke-width="0.65"/>
<circle cx="46.70" cy="527.20" r="1.50" fill="#111" stroke="none" stroke-width="0.5"/>
<circle cx="48.20" cy="526.20" r="1.50" fill="#111" stroke="none" stroke-width="0.5"/>
<circle cx="47.20" cy="524.70" r="1.50" fill="#111" stroke="none" stroke-width="0.5"/>
<circle cx="49.20" cy="527.20" r="1.50" fill="#111" stroke="none" stroke-width="0.5"/>
<circle cx="45.90" cy="528.20" r="1.50" fill="#111" stroke="none" stroke-width="0.5"/>
<rect x="41.40" y="477.00" width="54.80" height="54.80" fill="none" stroke="#222" stroke-width="1.35"/>
<text x="43.7" y="486.6" font-size="8.7" text-anchor="start" fill="#2b2b2b">M+2–6–</text>
<text x="94.9" y="528.8" font-size="8.7" text-anchor="end" fill="#8c8c8c">0.90</text>
<line x1="39.80" y1="529.50" x2="41.40" y2="529.50" stroke="#222" stroke-width="0.8"/>
<line x1="40.40" y1="513.50" x2="41.40" y2="513.50" stroke="#222" stroke-width="0.8"/>
<line x1="40.40" y1="496.50" x2="41.40" y2="496.50" stroke="#222" stroke-width="0.8"/>
<line x1="39.80" y1="480.50" x2="41.40" y2="480.50" stroke="#222" stroke-width="0.8"/>
<text x="38.4" y="483.9" font-size="8.7" text-anchor="end" fill="#2b2b2b">75</text>
<text x="38.4" y="531.2" font-size="8.7" text-anchor="end" fill="#2b2b2b">0</text>
<line x1="105.90" y1="529.20" x2="156.40" y2="478.00" stroke="#3a3a3a" stroke-width="1.05" stroke-dasharray="0.9,2.1"/>
<g fill="#b83a72"><circle cx="107.2" cy="528.5" r="0.9"/><circle cx="114.3" cy="521.2" r="0.9"/><circle cx="111.4" cy="522.1" r="0.9"/><circle cx="106.0" cy="528.6" r="0.9"/><circle cx="116.5" cy="518.6" r="0.9"/><circle cx="106.9" cy="527.3" r="0.9"/><circle cx="110.4" cy="524.2" r="0.9"/><circle cx="117.2" cy="518.3" r="0.9"/><circle cx="135.4" cy="500.8" r="0.9"/><circle cx="110.7" cy="525.7" r="0.9"/><circle cx="111.5" cy="521.5" r="0.9"/><circle cx="108.4" cy="528.4" r="0.9"/><circle cx="107.8" cy="528.5" r="0.9"/><circle cx="112.6" cy="521.9" r="0.9"/><circle cx="112.3" cy="522.7" r="0.9"/><circle cx="107.1" cy="526.8" r="0.9"/><circle cx="110.4" cy="524.4" r="0.9"/><circle cx="107.8" cy="526.7" r="0.9"/><circle cx="107.5" cy="528.0" r="0.9"/><circle cx="109.1" cy="526.9" r="0.9"/><circle cx="127.6" cy="505.8" r="0.9"/><circle cx="106.6" cy="529.6" r="0.9"/><circle cx="121.5" cy="512.9" r="0.9"/><circle cx="114.3" cy="520.4" r="0.9"/><circle cx="119.5" cy="514.5" r="0.9"/><circle cx="107.6" cy="527.5" r="0.9"/><circle cx="111.1" cy="524.3" r="0.9"/><circle cx="113.0" cy="521.4" r="0.9"/><circle cx="107.8" cy="529.3" r="0.9"/><circle cx="114.8" cy="520.5" r="0.9"/><circle cx="122.6" cy="514.7" r="0.9"/><circle cx="119.1" cy="517.1" r="0.9"/><circle cx="115.4" cy="520.1" r="0.9"/><circle cx="143.3" cy="495.2" r="0.9"/><circle cx="118.2" cy="517.5" r="0.9"/><circle cx="122.2" cy="511.2" r="0.9"/><circle cx="113.2" cy="523.8" r="0.9"/><circle cx="134.2" cy="505.8" r="0.9"/><circle cx="111.4" cy="523.9" r="0.9"/><circle cx="111.6" cy="524.3" r="0.9"/><circle cx="119.7" cy="516.0" r="0.9"/><circle cx="117.9" cy="518.0" r="0.9"/><circle cx="107.8" cy="528.0" r="0.9"/><circle cx="108.2" cy="527.0" r="0.9"/><circle cx="142.7" cy="494.6" r="0.9"/><circle cx="142.0" cy="493.9" r="0.9"/><circle cx="112.2" cy="521.5" r="0.9"/><circle cx="122.4" cy="514.9" r="0.9"/><circle cx="115.6" cy="518.2" r="0.9"/><circle cx="107.4" cy="526.2" r="0.9"/><circle cx="120.5" cy="512.3" r="0.9"/><circle cx="106.8" cy="528.1" r="0.9"/><circle cx="107.2" cy="526.9" r="0.9"/><circle cx="139.4" cy="493.8" r="0.9"/><circle cx="106.6" cy="527.0" r="0.9"/><circle cx="125.6" cy="513.0" r="0.9"/><circle cx="119.2" cy="514.6" r="0.9"/><circle cx="124.5" cy="511.4" r="0.9"/><circle cx="111.0" cy="522.6" r="0.9"/><circle cx="124.1" cy="511.8" r="0.9"/><circle cx="108.4" cy="524.5" r="0.9"/><circle cx="136.2" cy="493.3" r="0.9"/><circle cx="106.9" cy="527.7" r="0.9"/><circle cx="141.4" cy="494.2" r="0.9"/><circle cx="123.8" cy="510.0" r="0.9"/><circle cx="108.8" cy="526.7" r="0.9"/><circle cx="109.2" cy="527.0" r="0.9"/><circle cx="113.6" cy="523.1" r="0.9"/><circle cx="117.9" cy="515.9" r="0.9"/><circle cx="111.2" cy="524.3" r="0.9"/><circle cx="116.3" cy="516.2" r="0.9"/><circle cx="135.4" cy="500.7" r="0.9"/><circle cx="106.4" cy="527.8" r="0.9"/><circle cx="117.0" cy="518.8" r="0.9"/><circle cx="114.6" cy="519.5" r="0.9"/></g>
<path d="M129.4,503.6l1.1,1.9l1.1,-1.9 M114.3,519.2l1.1,1.9l1.1,-1.9 M126.6,506.1l1.1,1.9l1.1,-1.9 M112.8,520.5l1.1,1.9l1.1,-1.9 M111.4,521.4l1.1,1.9l1.1,-1.9 M110.0,523.9l1.1,1.9l1.1,-1.9 M120.1,512.3l1.1,1.9l1.1,-1.9 M128.1,506.8l1.1,1.9l1.1,-1.9 M105.6,527.3l1.1,1.9l1.1,-1.9 M109.8,523.8l1.1,1.9l1.1,-1.9 M109.1,524.1l1.1,1.9l1.1,-1.9 M134.6,498.4l1.1,1.9l1.1,-1.9 M136.4,494.2l1.1,1.9l1.1,-1.9 M107.9,525.0l1.1,1.9l1.1,-1.9 M115.5,518.1l1.1,1.9l1.1,-1.9 M137.4,494.7l1.1,1.9l1.1,-1.9 M108.5,524.7l1.1,1.9l1.1,-1.9 M116.4,516.6l1.1,1.9l1.1,-1.9 M112.8,521.1l1.1,1.9l1.1,-1.9 M120.7,513.9l1.1,1.9l1.1,-1.9 M113.5,520.1l1.1,1.9l1.1,-1.9 M119.0,513.0l1.1,1.9l1.1,-1.9" fill="none" stroke="#b04478" stroke-width="0.65"/>
<circle cx="107.90" cy="527.20" r="1.50" fill="#111" stroke="none" stroke-width="0.5"/>
<circle cx="109.40" cy="526.20" r="1.50" fill="#111" stroke="none" stroke-width="0.5"/>
<circle cx="108.40" cy="524.70" r="1.50" fill="#111" stroke="none" stroke-width="0.5"/>
<circle cx="109.90" cy="523.70" r="1.50" fill="#111" stroke="none" stroke-width="0.5"/>
<circle cx="108.90" cy="522.20" r="1.50" fill="#111" stroke="none" stroke-width="0.5"/>
<circle cx="107.10" cy="528.20" r="1.50" fill="#111" stroke="none" stroke-width="0.5"/>
<rect x="102.60" y="477.00" width="54.80" height="54.80" fill="none" stroke="#222" stroke-width="1.35"/>
<text x="104.9" y="486.6" font-size="8.7" text-anchor="start" fill="#2b2b2b">M–2–6–</text>
<text x="156.1" y="528.8" font-size="8.7" text-anchor="end" fill="#8c8c8c">0.94</text>
<line x1="44.50" y1="531.80" x2="44.50" y2="533.40" stroke="#222" stroke-width="0.8"/>
<line x1="60.50" y1="531.80" x2="60.50" y2="532.80" stroke="#222" stroke-width="0.8"/>
<line x1="76.50" y1="531.80" x2="76.50" y2="532.80" stroke="#222" stroke-width="0.8"/>
<line x1="92.50" y1="531.80" x2="92.50" y2="533.40" stroke="#222" stroke-width="0.8"/>
<line x1="105.50" y1="531.80" x2="105.50" y2="533.40" stroke="#222" stroke-width="0.8"/>
<line x1="122.50" y1="531.80" x2="122.50" y2="532.80" stroke="#222" stroke-width="0.8"/>
<line x1="138.50" y1="531.80" x2="138.50" y2="532.80" stroke="#222" stroke-width="0.8"/>
<line x1="154.50" y1="531.80" x2="154.50" y2="533.40" stroke="#222" stroke-width="0.8"/>
<text x="45.5" y="543.7" font-size="8.7" text-anchor="middle" fill="#2b2b2b">0</text>
<text x="92.4" y="543.7" font-size="8.7" text-anchor="middle" fill="#2b2b2b">75</text>
<text x="106.0" y="543.7" font-size="8.7" text-anchor="middle" fill="#2b2b2b">0</text>
<text x="153.2" y="543.7" font-size="8.7" text-anchor="middle" fill="#2b2b2b">75</text>
<line x1="46.00" y1="549.50" x2="57.00" y2="549.50" stroke="#6a6a6a" stroke-width="1.0"/>
<text x="99.5" y="553.1" font-size="8.7" text-anchor="middle" fill="#2b2b2b">Predicted extent (%)</text>
<line x1="142.50" y1="549.50" x2="155.50" y2="549.50" stroke="#6a6a6a" stroke-width="1.0"/>
<line x1="23.50" y1="295.00" x2="23.50" y2="367.50" stroke="#9a9a9a" stroke-width="1"/>
<line x1="23.50" y1="459.20" x2="23.50" y2="532.30" stroke="#9a9a9a" stroke-width="1"/>
<text x="0.0" y="0.0" font-size="9.1" text-anchor="middle" fill="#2b2b2b" transform="translate(24.8,410.6) rotate(-90)">Observed extent (%)</text>
<circle cx="40.10" cy="563.50" r="2.00" fill="#bd3570" stroke="#7a1e45" stroke-width="0.4"/>
<text x="47.0" y="566.3" font-size="8.7" text-anchor="start" fill="#2b2b2b">Non-DHL/THL (<tspan font-style="italic">n</tspan> = 144)</text>
<path d="M37.5,570.4h5l-2.5,4.2z" fill="#b8306a" stroke="#3a2030" stroke-width="0.8"/>
<text x="47.0" y="575.3" font-size="8.7" text-anchor="start" fill="#2b2b2b">DHL (MYC + BCL2, <tspan font-style="italic">n</tspan> = 2)</text>
<path d="M40,579.2l2.6,4.5h-5.2z" fill="#fff" stroke="#2a2a2a" stroke-width="1.0"/>
<text x="47.0" y="584.3" font-size="8.7" text-anchor="start" fill="#2b2b2b">DHL (MYC + BCL6, <tspan font-style="italic">n</tspan> = 5)</text>
<circle cx="40.00" cy="591.20" r="2.20" fill="#111" stroke="none" stroke-width="0.5"/>
<text x="47.0" y="593.2" font-size="8.7" text-anchor="start" fill="#2b2b2b">THL (<tspan font-style="italic">n</tspan> = 1)</text>
<text x="184.3" y="340.2" font-size="11" text-anchor="start" fill="#111" font-weight="bold">D</text>
<text x="204.4" y="344.9" font-size="8.7" text-anchor="start" fill="#2b2b2b">BCA, prospective mfIHC (<tspan font-style="italic">n</tspan> = 274)</text>
<line x1="205.50" y1="348.50" x2="334.00" y2="348.50" stroke="#4a4a4a" stroke-width="1.0"/>
<rect x="230.60" y="358.50" width="3.70" height="3.80" fill="#9c1c4e" stroke="none" stroke-width="1"/>
<text x="238.4" y="363.4" font-size="8.7" text-anchor="start" fill="#a3275c">M+2+6– high</text>
<rect x="230.60" y="367.10" width="3.70" height="3.80" fill="#c6c6c6" stroke="none" stroke-width="1"/>
<text x="238.4" y="372.3" font-size="8.7" text-anchor="start" fill="#c8c8c8">M+2+6– low</text>
<rect x="231.80" y="375.50" width="3.40" height="8.60" fill="#d6d6d8" stroke="none" stroke-width="1"/>
<rect x="231.80" y="384.10" width="3.40" height="27.50" fill="#9c1c4e" stroke="none" stroke-width="1"/>
<rect x="236.88" y="375.50" width="3.40" height="12.20" fill="#d6d6d8" stroke="none" stroke-width="1"/>
<rect x="236.88" y="387.70" width="3.40" height="23.90" fill="#9c1c4e" stroke="none" stroke-width="1"/>
<rect x="241.96" y="375.50" width="3.40" height="14.20" fill="#d6d6d8" stroke="none" stroke-width="1"/>
<rect x="241.96" y="389.70" width="3.40" height="21.90" fill="#9c1c4e" stroke="none" stroke-width="1"/>
<rect x="247.04" y="375.50" width="3.40" height="16.10" fill="#d6d6d8" stroke="none" stroke-width="1"/>
<rect x="247.04" y="391.60" width="3.40" height="20.00" fill="#9c1c4e" stroke="none" stroke-width="1"/>
<rect x="252.12" y="375.50" width="3.40" height="18.50" fill="#d6d6d8" stroke="none" stroke-width="1"/>
<rect x="252.12" y="394.00" width="3.40" height="17.60" fill="#9c1c4e" stroke="none" stroke-width="1"/>
<rect x="257.20" y="375.50" width="3.40" height="20.40" fill="#d6d6d8" stroke="none" stroke-width="1"/>
<rect x="257.20" y="395.90" width="3.40" height="15.70" fill="#9c1c4e" stroke="none" stroke-width="1"/>
<rect x="262.28" y="375.50" width="3.40" height="20.60" fill="#d6d6d8" stroke="none" stroke-width="1"/>
<rect x="262.28" y="396.10" width="3.40" height="15.50" fill="#9c1c4e" stroke="none" stroke-width="1"/>
<rect x="267.36" y="375.50" width="3.40" height="22.70" fill="#d6d6d8" stroke="none" stroke-width="1"/>
<rect x="267.36" y="398.20" width="3.40" height="13.40" fill="#9c1c4e" stroke="none" stroke-width="1"/>
<rect x="272.44" y="375.50" width="3.40" height="24.40" fill="#d6d6d8" stroke="none" stroke-width="1"/>
<rect x="272.44" y="399.90" width="3.40" height="11.70" fill="#9c1c4e" stroke="none" stroke-width="1"/>
<rect x="277.52" y="375.50" width="3.40" height="24.80" fill="#d6d6d8" stroke="none" stroke-width="1"/>
<rect x="277.52" y="400.30" width="3.40" height="11.30" fill="#9c1c4e" stroke="none" stroke-width="1"/>
<rect x="282.60" y="375.50" width="3.40" height="25.80" fill="#d6d6d8" stroke="none" stroke-width="1"/>
<rect x="282.60" y="401.30" width="3.40" height="10.30" fill="#9c1c4e" stroke="none" stroke-width="1"/>
<rect x="287.68" y="375.50" width="3.40" height="26.20" fill="#d6d6d8" stroke="none" stroke-width="1"/>
<rect x="287.68" y="401.70" width="3.40" height="9.90" fill="#9c1c4e" stroke="none" stroke-width="1"/>
<rect x="292.76" y="375.50" width="3.40" height="26.80" fill="#d6d6d8" stroke="none" stroke-width="1"/>
<rect x="292.76" y="402.30" width="3.40" height="9.30" fill="#9c1c4e" stroke="none" stroke-width="1"/>
<rect x="297.84" y="375.50" width="3.40" height="27.80" fill="#d6d6d8" stroke="none" stroke-width="1"/>
<rect x="297.84" y="403.30" width="3.40" height="8.30" fill="#9c1c4e" stroke="none" stroke-width="1"/>
<rect x="302.92" y="375.50" width="3.40" height="28.40" fill="#d6d6d8" stroke="none" stroke-width="1"/>
<rect x="302.92" y="403.90" width="3.40" height="7.70" fill="#9c1c4e" stroke="none" stroke-width="1"/>
<rect x="308.00" y="375.50" width="3.40" height="28.80" fill="#d6d6d8" stroke="none" stroke-width="1"/>
<rect x="308.00" y="404.30" width="3.40" height="7.30" fill="#9c1c4e" stroke="none" stroke-width="1"/>
<rect x="313.08" y="375.50" width="3.40" height="29.20" fill="#d6d6d8" stroke="none" stroke-width="1"/>
<rect x="313.08" y="404.70" width="3.40" height="6.90" fill="#9c1c4e" stroke="none" stroke-width="1"/>
<line x1="228.70" y1="375.50" x2="319.60" y2="375.50" stroke="#222" stroke-width="1"/>
<line x1="228.70" y1="411.50" x2="319.60" y2="411.50" stroke="#222" stroke-width="1"/>
<line x1="228.50" y1="375.00" x2="228.50" y2="412.10" stroke="#222" stroke-width="1"/>
<line x1="319.50" y1="375.00" x2="319.50" y2="412.10" stroke="#222" stroke-width="1"/>
<line x1="226.70" y1="375.50" x2="228.70" y2="375.50" stroke="#222" stroke-width="0.9"/>
<line x1="226.70" y1="411.50" x2="228.70" y2="411.50" stroke="#222" stroke-width="0.9"/>
<line x1="228.70" y1="382.80" x2="319.60" y2="382.80" stroke="#222" stroke-width="1.15" stroke-dasharray="2.4,2.3"/>
<line x1="228.70" y1="404.30" x2="319.60" y2="404.30" stroke="#222" stroke-width="1.15" stroke-dasharray="2.4,2.3"/>
<text x="225.0" y="378.6" font-size="8.7" text-anchor="end" fill="#2b2b2b">274</text>
<text x="225.3" y="413.9" font-size="8.7" text-anchor="end" fill="#2b2b2b">0</text>
<text x="0.0" y="0.0" font-size="8.7" text-anchor="middle" fill="#2b2b2b" transform="translate(206.6,394.9) rotate(-90)"><tspan font-style="italic">n</tspan> cases</text>
<rect x="287.80" y="425.00" width="4.60" height="107.50" fill="#d5e0ee" stroke="none" stroke-width="1"/>
<line x1="230.00" y1="510.40" x2="319.60" y2="510.40" stroke="#222" stroke-width="1.15" stroke-dasharray="2.5,2.1"/>
<line x1="234.77" y1="470.30" x2="234.77" y2="532.00" stroke="#c4c4c4" stroke-width="1.4"/>
<line x1="239.80" y1="473.30" x2="239.80" y2="532.00" stroke="#c4c4c4" stroke-width="1.4"/>
<line x1="244.83" y1="464.70" x2="244.83" y2="521.60" stroke="#c4c4c4" stroke-width="1.4"/>
<line x1="249.86" y1="474.70" x2="249.86" y2="528.70" stroke="#c4c4c4" stroke-width="1.4"/>
<line x1="254.89" y1="469.90" x2="254.89" y2="524.20" stroke="#c4c4c4" stroke-width="1.4"/>
<line x1="259.92" y1="466.30" x2="259.92" y2="519.60" stroke="#c4c4c4" stroke-width="1.4"/>
<line x1="264.95" y1="465.90" x2="264.95" y2="519.00" stroke="#c4c4c4" stroke-width="1.4"/>
<line x1="269.98" y1="461.20" x2="269.98" y2="515.00" stroke="#c4c4c4" stroke-width="1.4"/>
<line x1="275.01" y1="455.80" x2="275.01" y2="509.50" stroke="#d6bcc8" stroke-width="1.4"/>
<line x1="280.04" y1="452.20" x2="280.04" y2="507.50" stroke="#cfa2b8" stroke-width="1.4"/>
<line x1="285.07" y1="446.20" x2="285.07" y2="502.50" stroke="#cfa2b8" stroke-width="1.4"/>
<line x1="290.10" y1="440.10" x2="290.10" y2="495.50" stroke="#8f5e8a" stroke-width="1.4"/>
<line x1="295.13" y1="441.10" x2="295.13" y2="497.50" stroke="#a8426f" stroke-width="1.4"/>
<line x1="300.16" y1="441.10" x2="300.16" y2="498.50" stroke="#a8426f" stroke-width="1.4"/>
<line x1="305.19" y1="452.20" x2="305.19" y2="514.60" stroke="#c4c4c4" stroke-width="1.4"/>
<line x1="310.22" y1="444.10" x2="310.22" y2="506.50" stroke="#c4c4c4" stroke-width="1.4"/>
<line x1="315.25" y1="443.10" x2="315.25" y2="507.50" stroke="#c4c4c4" stroke-width="1.4"/>
<circle cx="234.77" cy="502.50" r="1.75" fill="#fff" stroke="#9a9a9a" stroke-width="0.7"/>
<circle cx="239.80" cy="501.90" r="1.75" fill="#fff" stroke="#9a9a9a" stroke-width="0.7"/>
<circle cx="244.83" cy="493.40" r="1.75" fill="#fff" stroke="#9a9a9a" stroke-width="0.7"/>
<circle cx="249.86" cy="502.10" r="1.75" fill="#fff" stroke="#9a9a9a" stroke-width="0.7"/>
<circle cx="254.89" cy="496.90" r="1.75" fill="#fff" stroke="#9a9a9a" stroke-width="0.7"/>
<circle cx="259.92" cy="492.80" r="1.75" fill="#fff" stroke="#9a9a9a" stroke-width="0.7"/>
<circle cx="264.95" cy="492.40" r="1.75" fill="#fff" stroke="#9a9a9a" stroke-width="0.7"/>
<circle cx="269.98" cy="487.80" r="1.75" fill="#fff" stroke="#9a9a9a" stroke-width="0.7"/>
<circle cx="275.01" cy="483.00" r="1.75" fill="#fff" stroke="#9a9a9a" stroke-width="0.7"/>
<circle cx="280.04" cy="480.00" r="1.85" fill="#c98aa6" stroke="none" stroke-width="0.5"/>
<circle cx="285.07" cy="474.20" r="1.85" fill="#c98aa6" stroke="none" stroke-width="0.5"/>
<circle cx="290.10" cy="467.80" r="1.95" fill="#8e1847" stroke="none" stroke-width="0.5"/>
<circle cx="295.13" cy="469.30" r="1.95" fill="#8e1847" stroke="none" stroke-width="0.5"/>
<circle cx="300.16" cy="470.20" r="1.95" fill="#8e1847" stroke="none" stroke-width="0.5"/>
<circle cx="305.19" cy="483.20" r="1.75" fill="#fff" stroke="#9a9a9a" stroke-width="0.7"/>
<circle cx="310.22" cy="475.60" r="1.75" fill="#fff" stroke="#9a9a9a" stroke-width="0.7"/>
<circle cx="315.25" cy="475.60" r="1.75" fill="#fff" stroke="#9a9a9a" stroke-width="0.7"/>
<rect x="230.00" y="425.00" width="89.60" height="107.50" fill="none" stroke="#222" stroke-width="1"/>
<line x1="228.00" y1="532.50" x2="230.00" y2="532.50" stroke="#222" stroke-width="0.9"/>
<line x1="228.00" y1="510.50" x2="230.00" y2="510.50" stroke="#222" stroke-width="0.9"/>
<line x1="228.00" y1="456.50" x2="230.00" y2="456.50" stroke="#222" stroke-width="0.9"/>
<line x1="228.00" y1="424.50" x2="230.00" y2="424.50" stroke="#222" stroke-width="0.9"/>
<line x1="228.80" y1="478.50" x2="230.00" y2="478.50" stroke="#222" stroke-width="0.7"/>
<line x1="228.80" y1="439.50" x2="230.00" y2="439.50" stroke="#222" stroke-width="0.7"/>
<text x="227.6" y="428.1" font-size="8.7" text-anchor="end" fill="#2b2b2b">3</text>
<text x="227.6" y="459.5" font-size="8.7" text-anchor="end" fill="#2b2b2b">2</text>
<text x="227.6" y="513.4" font-size="8.7" text-anchor="end" fill="#2b2b2b">1</text>
<text x="228.0" y="535.6" font-size="8.7" text-anchor="end" fill="#2b2b2b">0.75</text>
<line x1="239.50" y1="532.50" x2="239.50" y2="534.50" stroke="#222" stroke-width="0.9"/>
<text x="239.8" y="544.3" font-size="8.7" text-anchor="middle" fill="#2b2b2b">5</text>
<line x1="264.50" y1="532.50" x2="264.50" y2="534.50" stroke="#222" stroke-width="0.9"/>
<text x="264.9" y="544.3" font-size="8.7" text-anchor="middle" fill="#2b2b2b">10</text>
<line x1="290.50" y1="532.50" x2="290.50" y2="534.50" stroke="#222" stroke-width="0.9"/>
<text x="290.1" y="544.3" font-size="8.7" text-anchor="middle" fill="#2b2b2b">15</text>
<line x1="315.50" y1="532.50" x2="315.50" y2="534.50" stroke="#222" stroke-width="0.9"/>
<text x="315.2" y="544.3" font-size="8.7" text-anchor="middle" fill="#2b2b2b">20</text>
<text x="274.6" y="557.0" font-size="8.7" text-anchor="middle" fill="#2b2b2b">M+2+6– %</text>
<text x="0.0" y="0.0" font-size="8.7" text-anchor="middle" fill="#2b2b2b" transform="translate(197.3,476.3) rotate(-90)">HR for death</text>
<text x="0.0" y="0.0" font-size="8.7" text-anchor="middle" fill="#2b2b2b" transform="translate(204.6,479.9) rotate(-90)">(M+2+6– high vs. low)</text>
<text x="233.5" y="569.6" font-size="8.7" text-anchor="start" fill="#2b2b2b"><tspan font-style="italic">P</tspan>-value</text>
<circle cx="236.20" cy="574.30" r="2.20" fill="#8e1847" stroke="none" stroke-width="0.5"/>
<text x="242.4" y="577.7" font-size="8.7" text-anchor="start" fill="#a0305f">≤0.01</text>
<circle cx="236.20" cy="581.90" r="2.20" fill="#c596ac" stroke="none" stroke-width="0.5"/>
<text x="242.4" y="585.3" font-size="8.7" text-anchor="start" fill="#cfa3b9">≤0.05</text>
<circle cx="236.20" cy="589.90" r="1.90" fill="#fff" stroke="#999" stroke-width="0.8"/>
<text x="242.4" y="592.8" font-size="8.7" text-anchor="start" fill="#8c8c8c">&gt;0.05</text>
<text x="351.8" y="340.7" font-size="11" text-anchor="start" fill="#111" font-weight="bold">E</text>
<text x="378.8" y="344.8" font-size="8.7" text-anchor="start" fill="#2b2b2b">BCA, retrospective IHC (<tspan font-style="italic">n</tspan> = 316)</text>
<line x1="378.80" y1="348.50" x2="509.00" y2="348.50" stroke="#4a4a4a" stroke-width="1.0"/>
<line x1="379.90" y1="359.30" x2="398.90" y2="359.30" stroke="#951a4b" stroke-width="1.5"/>
<line x1="389.50" y1="356.30" x2="389.50" y2="359.30" stroke="#951a4b" stroke-width="0.8"/>
<text x="403.3" y="362.3" font-size="8.7" text-anchor="start" fill="#a3275c">M+2+6– high (≥15%)</text>
<line x1="379.90" y1="370.40" x2="398.90" y2="370.40" stroke="#8cadd6" stroke-width="1.9"/>
<line x1="389.50" y1="367.40" x2="389.50" y2="370.40" stroke="#8cadd6" stroke-width="0.8"/>
<text x="403.3" y="373.4" font-size="8.7" text-anchor="start" fill="#9db6da">M+2+6– low (&lt;15%)</text>
<path d="M379.1,387.8 L387.1,397.0 L395.2,409.4 L411.2,414.0 L427.2,417.1 L443.3,420.1 L459.4,420.9 L475.4,424.8 L488.2,430.2 L488.2,460.9 L475.4,450.9 L459.4,442.5 L443.3,440.9 L427.2,437.1 L403.2,432.5 L391.1,427.8 L387.1,417.1 L379.1,387.8Z" fill="#f6dbe5" opacity="0.3"/>
<path d="M379.1,387.8 L387.1,392.4 L395.2,397.0 L411.2,401.7 L443.3,407.1 L475.4,417.1 L491.5,424.8 L507.5,427.8 L507.5,441.7 L491.5,437.1 L475.4,428.6 L443.3,417.8 L411.2,410.1 L395.2,406.3 L387.1,400.1 L379.1,387.8Z" fill="#e3ebf6" opacity="0.35"/>
<path d="M379.1,387.8 H380.9 V389.5 H382.6 V391.2 H384.4 V392.9 H386.2 V395.0 H387.9 V398.0 H389.7 V400.0 H391.5 V401.0 H393.2 V401.5 H395.0 V401.9 H396.8 V402.4 H398.5 V402.9 H400.3 V403.4 H402.1 V403.9 H403.8 V404.3 H405.6 V404.7 H407.3 V405.2 H409.1 V405.6 H410.9 V406.0 H412.6 V406.4 H414.4 V406.9 H416.2 V407.2 H417.9 V407.5 H419.7 V407.8 H421.5 V408.1 H423.2 V408.4 H425.0 V408.7 H426.8 V409.0 H428.5 V409.3 H430.3 V409.7 H432.1 V410.1 H433.8 V410.5 H435.6 V410.9 H437.4 V411.3 H439.1 V411.7 H440.9 V412.1 H442.7 V412.5 H444.4 V413.1 H446.2 V413.7 H448.0 V414.3 H449.7 V414.9 H451.5 V415.5 H453.3 V416.1 H455.0 V416.7 H456.8 V417.1 H458.5 V417.3 H460.3 V417.5 H462.1 V417.6 H463.8 V417.8 H465.6 V418.7 H467.4 V419.7 H469.1 V420.7 H470.9 V421.7 H472.7 V422.6 H474.4 V423.2 H476.2 V423.8 H478.0 V424.4 H479.7 V425.0 H481.5 V425.6 H483.3 V426.2 H485.0 V427.1 H486.8 V427.9 H488.6 V428.8 H490.3 V429.6 H492.1 V430.5 H493.9 V431.5 H495.6 V432.6 H497.4 V433.6 H499.2 V434.6 H500.9 V434.8 H502.7 V434.8 H504.5 V434.8 H506.2 V434.8" fill="none" stroke="#8cadd6" stroke-width="2.3"/>
<path d="M385.2,390.3v2.6 M387.0,392.4v2.6 M390.5,397.4v2.6 M392.3,398.4v2.6 M394.0,398.9v2.6 M395.8,399.3v2.6 M397.6,399.8v2.6 M399.3,400.3v2.6 M402.9,401.3v2.6 M404.6,401.7v2.6 M406.4,402.1v2.6 M409.9,403.0v2.6 M411.7,403.4v2.6 M417.0,404.6v2.6 M418.7,404.9v2.6 M420.5,405.2v2.6 M422.3,405.5v2.6 M424.0,405.8v2.6 M425.8,406.1v2.6 M427.6,406.4v2.6 M429.3,406.7v2.6 M431.1,407.1v2.6 M432.9,407.5v2.6 M434.6,407.9v2.6 M438.2,408.7v2.6 M439.9,409.1v2.6 M441.7,409.5v2.6 M443.5,409.9v2.6 M445.2,410.5v2.6 M447.0,411.1v2.6 M455.8,414.1v2.6 M457.6,414.5v2.6 M459.4,414.7v2.6 M461.1,414.9v2.6 M464.6,415.2v2.6 M468.2,417.1v2.6 M473.5,420.0v2.6 M475.2,420.6v2.6 M478.8,421.8v2.6 M482.3,423.0v2.6 M484.1,423.6v2.6 M485.8,424.5v2.6 M489.4,426.2v2.6 M491.1,427.0v2.6 M492.9,427.9v2.6 M498.2,431.0v2.6 M500.0,432.0v2.6 M501.7,432.2v2.6 M503.5,432.2v2.6 M507.0,432.2v2.6" stroke="#8cadd6" stroke-width="0.8" fill="none"/>
<path d="M379.1,387.8 H383.1 V389.2 H385.5 V392.4 H386.7 V397.0 H387.5 V403.2 H388.3 V409.4 H389.1 V415.5 H390.7 V417.4 H396.8 V417.4 H398.0 V419.4 H402.0 V421.5 H407.2 V423.7 H414.0 V425.0 H420.8 V426.4 H428.9 V428.3 H432.9 V430.4 H442.5 V430.4 H448.9 V431.5 H461.4 V431.5 H462.6 V433.7 H469.8 V433.7 H470.6 V439.9 H478.6 V439.9 H479.4 V446.5 H488.2 V446.5" fill="none" stroke="#951a4b" stroke-width="1.8"/>
<path d="M395.2,415.2v2.2 M400.0,417.2v2.2 M404.8,419.3v2.2 M410.4,421.5v2.2 M416.0,422.8v2.2 M423.2,424.2v2.2 M427.2,424.2v2.2 M435.3,428.2v2.2 M438.5,428.2v2.2 M445.7,428.2v2.2 M452.9,429.3v2.2 M456.1,429.3v2.2 M459.4,429.3v2.2 M466.6,431.5v2.2 M474.6,437.7v2.2 M477.8,437.7v2.2 M487.4,444.3v2.2" stroke="#951a4b" stroke-width="0.8" fill="none"/>
<rect x="379.10" y="379.50" width="128.40" height="85.30" fill="none" stroke="#222" stroke-width="1"/>
<line x1="377.10" y1="464.50" x2="379.10" y2="464.50" stroke="#222" stroke-width="0.9"/>
<line x1="377.10" y1="445.50" x2="379.10" y2="445.50" stroke="#222" stroke-width="0.9"/>
<line x1="377.10" y1="426.50" x2="379.10" y2="426.50" stroke="#222" stroke-width="0.9"/>
<line x1="377.10" y1="407.50" x2="379.10" y2="407.50" stroke="#222" stroke-width="0.9"/>
<line x1="377.10" y1="387.50" x2="379.10" y2="387.50" stroke="#222" stroke-width="0.9"/>
<text x="375.7" y="390.6" font-size="8.7" text-anchor="end" fill="#2b2b2b">100</text>
<text x="375.7" y="409.9" font-size="8.7" text-anchor="end" fill="#2b2b2b">75</text>
<text x="375.7" y="429.2" font-size="8.7" text-anchor="end" fill="#2b2b2b">50</text>
<text x="375.7" y="448.5" font-size="8.7" text-anchor="end" fill="#2b2b2b">25</text>
<text x="375.7" y="467.8" font-size="8.7" text-anchor="end" fill="#2b2b2b">0</text>
<line x1="379.50" y1="464.80" x2="379.50" y2="466.80" stroke="#222" stroke-width="0.9"/>
<text x="379.1" y="477.4" font-size="8.7" text-anchor="middle" fill="#2b2b2b">0</text>
<line x1="395.50" y1="464.80" x2="395.50" y2="466.80" stroke="#222" stroke-width="0.9"/>
<text x="395.2" y="477.4" font-size="8.7" text-anchor="middle" fill="#2b2b2b">2</text>
<line x1="411.50" y1="464.80" x2="411.50" y2="466.80" stroke="#222" stroke-width="0.9"/>
<text x="411.2" y="477.4" font-size="8.7" text-anchor="middle" fill="#2b2b2b">4</text>
<line x1="427.50" y1="464.80" x2="427.50" y2="466.80" stroke="#222" stroke-width="0.9"/>
<text x="427.2" y="477.4" font-size="8.7" text-anchor="middle" fill="#2b2b2b">6</text>
<line x1="443.50" y1="464.80" x2="443.50" y2="466.80" stroke="#222" stroke-width="0.9"/>
<text x="443.3" y="477.4" font-size="8.7" text-anchor="middle" fill="#2b2b2b">8</text>
<line x1="459.50" y1="464.80" x2="459.50" y2="466.80" stroke="#222" stroke-width="0.9"/>
<text x="459.4" y="477.4" font-size="8.7" text-anchor="middle" fill="#2b2b2b">10</text>
<line x1="475.50" y1="464.80" x2="475.50" y2="466.80" stroke="#222" stroke-width="0.9"/>
<text x="475.4" y="477.4" font-size="8.7" text-anchor="middle" fill="#2b2b2b">12</text>
<line x1="491.50" y1="464.80" x2="491.50" y2="466.80" stroke="#222" stroke-width="0.9"/>
<text x="491.5" y="477.4" font-size="8.7" text-anchor="middle" fill="#2b2b2b">14</text>
<line x1="507.50" y1="464.80" x2="507.50" y2="466.80" stroke="#222" stroke-width="0.9"/>
<text x="507.5" y="477.4" font-size="8.7" text-anchor="middle" fill="#2b2b2b">16</text>
<text x="0.0" y="0.0" font-size="8.7" text-anchor="middle" fill="#2b2b2b" transform="translate(362.0,424.5) rotate(-90)">Percent survival</text>
<rect x="385.50" y="436.30" width="4.30" height="4.30" fill="#951a4b" stroke="none" stroke-width="1"/>
<text x="394.0" y="441.7" font-size="8.7" text-anchor="start" fill="#a3275c">58</text>
<rect x="385.50" y="443.80" width="4.30" height="4.30" fill="#8cadd6" stroke="none" stroke-width="1"/>
<text x="394.0" y="449.3" font-size="8.7" text-anchor="start" fill="#9db6da">258</text>
<text x="384.6" y="460.3" font-size="8.7" text-anchor="start" fill="#2b2b2b"><tspan font-style="italic">P</tspan> = 0.002</text>
<text x="371.6" y="486.4" font-size="8.7" text-anchor="start" fill="#2b2b2b">Number at risk:</text>
<text x="379.1" y="495.9" font-size="8.7" text-anchor="middle" fill="#a3275c">58</text>
<text x="379.1" y="505.3" font-size="8.7" text-anchor="middle" fill="#9db6da">258</text>
<text x="395.2" y="495.9" font-size="8.7" text-anchor="middle" fill="#a3275c">36</text>
<text x="395.2" y="505.3" font-size="8.7" text-anchor="middle" fill="#9db6da">206</text>
<text x="411.2" y="495.9" font-size="8.7" text-anchor="middle" fill="#a3275c">30</text>
<text x="411.2" y="505.3" font-size="8.7" text-anchor="middle" fill="#9db6da">192</text>
<text x="427.2" y="495.9" font-size="8.7" text-anchor="middle" fill="#a3275c">25</text>
<text x="427.2" y="505.3" font-size="8.7" text-anchor="middle" fill="#9db6da">152</text>
<text x="443.3" y="495.9" font-size="8.7" text-anchor="middle" fill="#a3275c">19</text>
<text x="443.3" y="505.3" font-size="8.7" text-anchor="middle" fill="#9db6da">118</text>
<text x="459.4" y="495.9" font-size="8.7" text-anchor="middle" fill="#a3275c">14</text>
<text x="459.4" y="505.3" font-size="8.7" text-anchor="middle" fill="#9db6da">82</text>
<text x="475.4" y="495.9" font-size="8.7" text-anchor="middle" fill="#a3275c">6</text>
<text x="475.4" y="505.3" font-size="8.7" text-anchor="middle" fill="#9db6da">40</text>
<text x="491.5" y="495.9" font-size="8.7" text-anchor="middle" fill="#a3275c">0</text>
<text x="491.5" y="505.3" font-size="8.7" text-anchor="middle" fill="#9db6da">16</text>
<text x="507.5" y="495.9" font-size="8.7" text-anchor="middle" fill="#a3275c">0</text>
<text x="507.5" y="505.3" font-size="8.7" text-anchor="middle" fill="#9db6da">3</text>
</svg></body></html>
